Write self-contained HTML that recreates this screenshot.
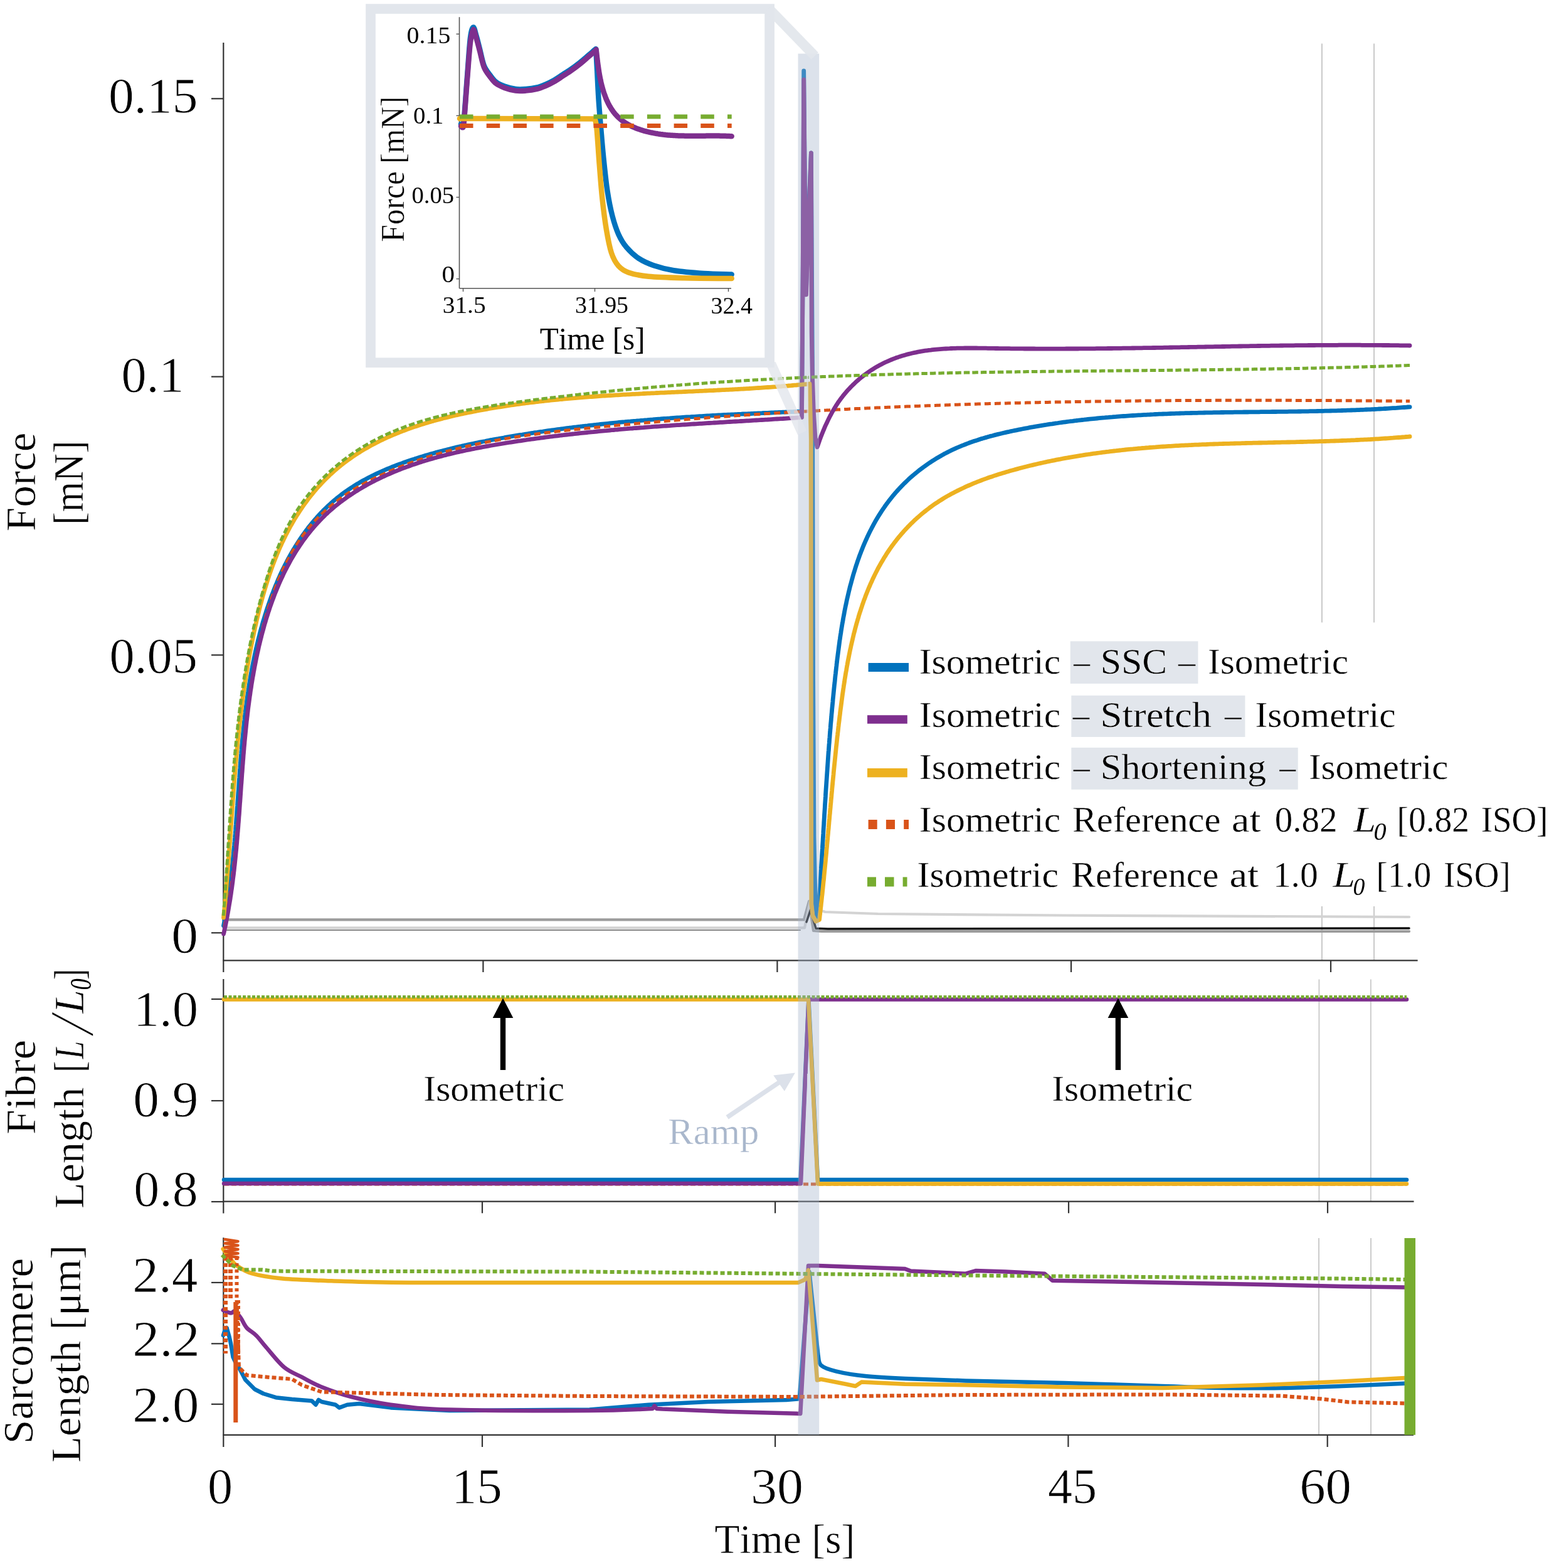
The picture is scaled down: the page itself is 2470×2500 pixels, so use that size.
<!DOCTYPE html><html><head><meta charset="utf-8"><title>Force, fibre length and sarcomere length</title><style>html,body{margin:0;padding:0;background:#fff;}svg{display:block;}text{font-family:'Liberation Serif', serif;font-kerning:none;paint-order:fill;}.ta{stroke:#fff;stroke-width:0.8px;}.tb{stroke:#fff;stroke-width:0.6px;}.tc{stroke:#fff;stroke-width:0.4px;}</style></head><body>
<svg width="2470" height="2500" viewBox="0 0 2470 2500">
<rect x="0" y="0" width="2470" height="2500" fill="#fff"/>
<line x1="2107.9" y1="69.4" x2="2107.9" y2="1531.0" stroke="#cccccc" stroke-width="2.2" />
<line x1="2191.0" y1="69.4" x2="2191.0" y2="1531.0" stroke="#cccccc" stroke-width="2.2" />
<line x1="2103.4" y1="1561.5" x2="2103.4" y2="1915.7" stroke="#cccccc" stroke-width="2.0" />
<line x1="2185.8" y1="1561.5" x2="2185.8" y2="1915.7" stroke="#cccccc" stroke-width="2.0" />
<line x1="2103.0" y1="1974.0" x2="2103.0" y2="2287.8" stroke="#cccccc" stroke-width="2.0" />
<line x1="2186.0" y1="1974.0" x2="2186.0" y2="2287.8" stroke="#cccccc" stroke-width="2.0" />
<line x1="356.3" y1="68.0" x2="356.3" y2="1550.0" stroke="#333333" stroke-width="2.2" />
<line x1="355.3" y1="1531.3" x2="2260.6" y2="1531.3" stroke="#333333" stroke-width="2.2" />
<line x1="337.0" y1="157.3" x2="356.3" y2="157.3" stroke="#333333" stroke-width="2.2" />
<line x1="337.0" y1="600.6" x2="356.3" y2="600.6" stroke="#333333" stroke-width="2.2" />
<line x1="337.0" y1="1044.4" x2="356.3" y2="1044.4" stroke="#333333" stroke-width="2.2" />
<line x1="337.0" y1="1487.3" x2="356.3" y2="1487.3" stroke="#333333" stroke-width="2.2" />
<line x1="770.4" y1="1531.3" x2="770.4" y2="1550.0" stroke="#333333" stroke-width="2.2" />
<line x1="1239.4" y1="1531.3" x2="1239.4" y2="1550.0" stroke="#333333" stroke-width="2.2" />
<line x1="1708.0" y1="1531.3" x2="1708.0" y2="1550.0" stroke="#333333" stroke-width="2.2" />
<line x1="2122.0" y1="1531.3" x2="2122.0" y2="1550.0" stroke="#333333" stroke-width="2.2" />
<line x1="356.3" y1="1561.0" x2="356.3" y2="1934.6" stroke="#333333" stroke-width="2.2" />
<line x1="355.3" y1="1915.7" x2="2254.5" y2="1915.7" stroke="#333333" stroke-width="2.2" />
<line x1="337.0" y1="1593.0" x2="356.3" y2="1593.0" stroke="#333333" stroke-width="2.2" />
<line x1="337.0" y1="1755.0" x2="356.3" y2="1755.0" stroke="#333333" stroke-width="2.2" />
<line x1="337.0" y1="1916.0" x2="356.3" y2="1916.0" stroke="#333333" stroke-width="2.2" />
<line x1="769.0" y1="1915.7" x2="769.0" y2="1934.3" stroke="#333333" stroke-width="2.2" />
<line x1="1236.1" y1="1915.7" x2="1236.1" y2="1934.3" stroke="#333333" stroke-width="2.2" />
<line x1="1704.0" y1="1915.7" x2="1704.0" y2="1934.3" stroke="#333333" stroke-width="2.2" />
<line x1="2117.0" y1="1915.7" x2="2117.0" y2="1934.3" stroke="#333333" stroke-width="2.2" />
<line x1="356.3" y1="1973.3" x2="356.3" y2="2307.0" stroke="#333333" stroke-width="2.2" />
<line x1="355.3" y1="2287.8" x2="2254.0" y2="2287.8" stroke="#333333" stroke-width="2.2" />
<line x1="337.0" y1="2044.9" x2="356.3" y2="2044.9" stroke="#333333" stroke-width="2.2" />
<line x1="337.0" y1="2142.3" x2="356.3" y2="2142.3" stroke="#333333" stroke-width="2.2" />
<line x1="337.0" y1="2238.8" x2="356.3" y2="2238.8" stroke="#333333" stroke-width="2.2" />
<line x1="769.0" y1="2287.8" x2="769.0" y2="2307.0" stroke="#333333" stroke-width="2.2" />
<line x1="1236.1" y1="2287.8" x2="1236.1" y2="2307.0" stroke="#333333" stroke-width="2.2" />
<line x1="1703.4" y1="2287.8" x2="1703.4" y2="2307.0" stroke="#333333" stroke-width="2.2" />
<line x1="2116.7" y1="2287.8" x2="2116.7" y2="2307.0" stroke="#333333" stroke-width="2.2" />
<path d="M356.0,1483.0 L1276.0,1483.0" fill="none" stroke="#8a8a8a" stroke-width="2.2" stroke-linejoin="round" stroke-linecap="round" />
<path d="M356.0,1466.4 L1282.0,1466.4 L1290.0,1437.0 L1297.0,1484.0 L1310.0,1485.0 L2247.0,1485.0" fill="none" stroke="#9c9c9c" stroke-width="4.2" stroke-linejoin="round" stroke-linecap="round" />
<path d="M356.0,1479.3 L1283.0,1479.3 L1292.0,1436.0 L1300.0,1449.0 L1316.0,1454.0 L1400.0,1457.0 L1700.0,1459.5 L2247.0,1462.0" fill="none" stroke="#d3d3d3" stroke-width="4.2" stroke-linejoin="round" stroke-linecap="round" />
<path d="M1286.0,1470.0 L1292.4,1450.7 L1301.0,1480.3 L1320.0,1481.0 L2247.0,1480.0" fill="none" stroke="#111111" stroke-width="3.4" stroke-linejoin="round" stroke-linecap="round" />
<path d="M356.5,1476.0 L357.1,1473.0 L357.6,1470.0 L358.2,1467.0 L358.7,1464.0 L359.2,1461.0 L359.8,1458.0 L360.3,1455.1 L360.8,1452.1 L361.3,1449.1 L361.8,1446.1 L362.2,1443.1 L362.7,1440.1 L363.2,1437.1 L363.6,1434.1 L364.0,1431.1 L364.5,1428.1 L364.9,1425.1 L365.3,1422.2 L365.7,1419.2 L366.1,1416.2 L366.5,1413.2 L366.9,1410.2 L367.3,1407.2 L367.6,1404.2 L368.0,1401.2 L368.4,1398.2 L368.7,1395.3 L369.1,1392.3 L369.4,1389.3 L369.7,1386.3 L370.1,1383.3 L370.4,1380.3 L370.7,1377.3 L371.0,1374.3 L371.3,1371.4 L371.6,1368.4 L371.9,1365.4 L372.2,1362.4 L372.5,1359.4 L372.7,1356.4 L373.0,1353.4 L373.3,1350.5 L373.6,1347.5 L373.8,1344.5 L374.1,1341.5 L374.3,1338.5 L374.6,1335.5 L374.8,1332.5 L375.1,1329.6 L375.3,1326.6 L375.6,1323.6 L375.8,1320.6 L376.0,1317.6 L376.3,1314.6 L376.5,1311.7 L376.7,1308.7 L376.9,1305.7 L377.2,1302.7 L377.4,1299.7 L377.6,1296.7 L377.8,1293.7 L378.0,1290.8 L378.2,1287.8 L378.5,1284.8 L378.7,1281.8 L378.9,1278.8 L379.1,1275.8 L379.3,1272.9 L379.5,1269.9 L379.7,1266.9 L379.9,1263.9 L380.2,1260.9 L380.4,1257.9 L380.6,1255.0 L380.8,1252.0 L381.0,1249.0 L381.2,1246.0 L381.4,1243.0 L381.7,1240.1 L381.9,1237.1 L382.1,1234.1 L382.3,1231.1 L382.5,1228.1 L382.8,1225.1 L383.0,1222.2 L383.2,1219.2 L383.5,1216.2 L383.7,1213.2 L383.9,1210.2 L384.2,1207.2 L384.4,1204.3 L384.7,1201.3 L384.9,1198.3 L385.2,1195.3 L385.4,1192.3 L385.7,1189.3 L386.0,1186.4 L386.2,1183.4 L386.5,1180.4 L386.8,1177.4 L387.1,1174.4 L387.4,1171.4 L387.7,1168.5 L388.0,1165.5 L388.3,1162.5 L388.6,1159.5 L388.9,1156.5 L389.2,1153.5 L389.5,1150.6 L389.9,1147.6 L390.2,1144.6 L390.5,1141.6 L390.9,1138.6 L391.3,1135.6 L391.6,1132.7 L392.0,1129.7 L392.4,1126.7 L392.8,1123.7 L393.2,1120.7 L393.6,1117.7 L394.0,1114.8 L394.4,1111.8 L394.8,1108.8 L395.2,1105.8 L395.7,1102.8 L396.1,1099.8 L396.6,1096.8 L397.0,1093.9 L397.5,1090.9 L398.0,1087.9 L398.5,1084.9 L399.0,1081.9 L399.5,1078.9 L400.0,1075.9 L400.6,1073.0 L401.1,1070.0 L401.7,1067.0 L402.2,1064.0 L402.8,1061.0 L403.4,1058.0 L404.0,1055.0 L404.6,1052.1 L405.2,1049.1 L405.8,1046.1 L406.5,1043.1 L407.1,1040.1 L407.8,1037.1 L408.4,1034.1 L409.1,1031.2 L409.8,1028.2 L410.5,1025.2 L411.2,1022.2 L412.0,1019.2 L412.7,1016.3 L413.5,1013.3 L414.2,1010.3 L415.0,1007.3 L415.8,1004.4 L416.6,1001.4 L417.5,998.5 L418.3,995.5 L419.1,992.6 L420.0,989.6 L420.9,986.7 L421.8,983.8 L422.7,980.8 L423.6,977.9 L424.5,975.0 L425.4,972.1 L426.4,969.2 L427.4,966.3 L428.4,963.4 L429.4,960.5 L430.4,957.6 L431.4,954.8 L432.4,951.9 L433.5,949.0 L434.6,946.2 L435.7,943.4 L436.8,940.5 L437.9,937.7 L439.0,934.9 L440.2,932.1 L441.4,929.3 L442.5,926.5 L443.7,923.7 L445.0,921.0 L446.2,918.2 L447.4,915.5 L448.7,912.8 L450.0,910.0 L451.3,907.3 L452.6,904.6 L453.9,901.9 L455.3,899.3 L456.7,896.6 L458.0,894.0 L459.4,891.3 L460.9,888.7 L462.3,886.1 L463.8,883.5 L465.2,880.9 L466.7,878.4 L468.2,875.8 L469.8,873.3 L471.3,870.8 L472.9,868.3 L474.5,865.8 L476.1,863.3 L477.7,860.8 L479.3,858.4 L481.0,856.0 L482.7,853.5 L484.4,851.1 L486.1,848.8 L487.8,846.4 L489.6,844.1 L491.3,841.7 L493.1,839.4 L495.0,837.1 L496.8,834.9 L498.7,832.6 L500.5,830.4 L502.4,828.2 L504.4,826.0 L506.3,823.8 L508.3,821.6 L510.2,819.5 L512.2,817.4 L514.3,815.3 L516.3,813.2 L518.4,811.2 L520.5,809.2 L522.6,807.1 L524.7,805.2 L526.9,803.2 L529.0,801.2 L531.2,799.3 L533.5,797.4 L535.7,795.6 L538.0,793.7 L540.3,791.9 L542.6,790.1 L544.9,788.3 L547.3,786.5 L549.6,784.8 L552.1,783.1 L554.5,781.4 L556.9,779.8 L559.4,778.1 L561.9,776.5 L564.4,774.9 L566.9,773.3 L569.5,771.8 L572.0,770.3 L574.6,768.8 L577.2,767.3 L579.9,765.8 L582.5,764.4 L585.1,763.0 L587.8,761.6 L590.5,760.2 L593.2,758.8 L595.9,757.5 L598.7,756.2 L601.4,754.9 L604.2,753.6 L606.9,752.3 L609.7,751.1 L612.5,749.9 L615.3,748.7 L618.1,747.5 L621.0,746.3 L623.8,745.2 L626.6,744.0 L629.5,742.9 L632.4,741.8 L635.2,740.7 L638.1,739.6 L641.0,738.6 L643.9,737.5 L646.8,736.5 L649.7,735.5 L652.6,734.5 L655.6,733.5 L658.5,732.6 L661.4,731.6 L664.3,730.7 L667.3,729.7 L670.2,728.8 L673.1,727.9 L676.1,727.0 L679.0,726.1 L682.0,725.3 L684.9,724.4 L687.9,723.6 L690.8,722.8 L693.8,721.9 L696.7,721.1 L699.6,720.3 L702.6,719.5 L705.5,718.8 L708.5,718.0 L711.4,717.3 L714.4,716.5 L717.3,715.8 L720.3,715.0 L723.2,714.3 L726.2,713.6 L729.1,712.9 L732.1,712.2 L735.0,711.6 L738.0,710.9 L740.9,710.2 L743.9,709.6 L746.9,708.9 L749.8,708.3 L752.8,707.7 L755.7,707.0 L758.7,706.4 L761.6,705.8 L764.6,705.2 L767.5,704.6 L770.5,704.0 L773.5,703.5 L776.4,702.9 L779.4,702.3 L782.3,701.7 L785.3,701.2 L788.3,700.6 L791.2,700.1 L794.2,699.6 L797.1,699.0 L800.1,698.5 L803.1,698.0 L806.0,697.4 L809.0,696.9 L811.9,696.4 L814.9,695.9 L817.9,695.4 L820.8,694.9 L823.8,694.4 L826.7,693.9 L829.7,693.4 L832.7,693.0 L835.6,692.5 L838.6,692.0 L841.6,691.6 L844.5,691.1 L847.5,690.6 L850.5,690.2 L853.4,689.7 L856.4,689.3 L859.4,688.8 L862.3,688.4 L865.3,688.0 L868.3,687.5 L871.2,687.1 L874.2,686.7 L877.2,686.3 L880.1,685.9 L883.1,685.5 L886.1,685.1 L889.0,684.7 L892.0,684.3 L895.0,683.9 L897.9,683.5 L900.9,683.1 L903.9,682.7 L906.9,682.3 L909.8,682.0 L912.8,681.6 L915.8,681.2 L918.7,680.9 L921.7,680.5 L924.7,680.2 L927.7,679.8 L930.6,679.5 L933.6,679.1 L936.6,678.8 L939.6,678.4 L942.5,678.1 L945.5,677.8 L948.5,677.5 L951.5,677.1 L954.4,676.8 L957.4,676.5 L960.4,676.2 L963.4,675.9 L966.3,675.6 L969.3,675.3 L972.3,675.0 L975.3,674.7 L978.3,674.4 L981.2,674.1 L984.2,673.8 L987.2,673.5 L990.2,673.2 L993.2,672.9 L996.1,672.7 L999.1,672.4 L1002.1,672.1 L1005.1,671.9 L1008.1,671.6 L1011.1,671.3 L1014.0,671.1 L1017.0,670.8 L1020.0,670.6 L1023.0,670.3 L1026.0,670.1 L1029.0,669.8 L1032.0,669.6 L1035.0,669.3 L1037.9,669.1 L1040.9,668.9 L1043.9,668.6 L1046.9,668.4 L1049.9,668.2 L1052.9,668.0 L1055.9,667.7 L1058.9,667.5 L1061.9,667.3 L1064.8,667.1 L1067.8,666.9 L1070.8,666.6 L1073.8,666.4 L1076.8,666.2 L1079.8,666.0 L1082.8,665.8 L1085.8,665.6 L1088.8,665.4 L1091.8,665.2 L1094.8,665.0 L1097.8,664.8 L1100.8,664.7 L1103.8,664.5 L1106.8,664.3 L1109.8,664.1 L1112.8,663.9 L1115.8,663.7 L1118.8,663.6 L1121.8,663.4 L1124.8,663.2 L1127.8,663.0 L1130.8,662.9 L1133.8,662.7 L1136.8,662.5 L1139.8,662.4 L1142.8,662.2 L1145.8,662.0 L1148.8,661.9 L1151.8,661.7 L1154.8,661.5 L1157.8,661.4 L1160.8,661.2 L1163.8,661.1 L1166.8,660.9 L1169.8,660.8 L1172.9,660.6 L1175.9,660.5 L1178.9,660.3 L1181.9,660.2 L1184.9,660.0 L1187.9,659.9 L1190.9,659.8 L1193.9,659.6 L1196.9,659.5 L1200.0,659.3 L1203.0,659.2 L1206.0,659.1 L1209.0,658.9 L1212.0,658.8 L1215.0,658.7 L1218.1,658.5 L1221.1,658.4 L1224.1,658.3 L1227.1,658.1 L1230.1,658.0 L1233.1,657.9 L1236.2,657.7 L1239.2,657.6 L1242.2,657.5 L1245.2,657.4 L1248.2,657.2 L1251.3,657.1 L1254.3,657.0 L1257.3,656.9 L1260.3,656.7 L1263.4,656.6 L1266.4,656.5 L1269.4,656.4 L1272.4,656.2 L1275.5,656.1 L1278.5,656.0 L1280.3,420.0 L1281.7,113.0 L1283.4,290.0 L1285.5,462.0 L1290.0,322.0 L1293.4,244.0 L1295.5,600.0 L1296.6,1080.0 L1298.0,1334.8 L1300.2,1441.0 L1302.5,1461.0 L1304.4,1462.0 L1304.4,1462.0 L1304.6,1458.9 L1304.8,1455.8 L1305.0,1452.7 L1305.3,1449.6 L1305.5,1446.5 L1305.7,1443.5 L1305.9,1440.4 L1306.1,1437.3 L1306.3,1434.2 L1306.5,1431.2 L1306.7,1428.1 L1306.9,1425.1 L1307.1,1422.0 L1307.3,1419.0 L1307.5,1415.9 L1307.7,1412.9 L1307.9,1409.8 L1308.1,1406.8 L1308.2,1403.8 L1308.4,1400.7 L1308.6,1397.7 L1308.8,1394.7 L1309.0,1391.7 L1309.2,1388.7 L1309.4,1385.7 L1309.5,1382.6 L1309.7,1379.6 L1309.9,1376.6 L1310.1,1373.6 L1310.3,1370.6 L1310.5,1367.6 L1310.6,1364.6 L1310.8,1361.7 L1311.0,1358.7 L1311.2,1355.7 L1311.4,1352.7 L1311.5,1349.7 L1311.7,1346.7 L1311.9,1343.8 L1312.1,1340.8 L1312.2,1337.8 L1312.4,1334.9 L1312.6,1331.9 L1312.8,1328.9 L1312.9,1326.0 L1313.1,1323.0 L1313.3,1320.0 L1313.5,1317.1 L1313.7,1314.1 L1313.8,1311.2 L1314.0,1308.2 L1314.2,1305.2 L1314.4,1302.3 L1314.5,1299.3 L1314.7,1296.4 L1314.9,1293.4 L1315.1,1290.5 L1315.3,1287.5 L1315.4,1284.6 L1315.6,1281.6 L1315.8,1278.7 L1316.0,1275.8 L1316.2,1272.8 L1316.4,1269.9 L1316.5,1266.9 L1316.7,1264.0 L1316.9,1261.0 L1317.1,1258.1 L1317.3,1255.2 L1317.5,1252.2 L1317.7,1249.3 L1317.9,1246.3 L1318.1,1243.4 L1318.3,1240.4 L1318.5,1237.5 L1318.7,1234.6 L1318.9,1231.6 L1319.1,1228.7 L1319.3,1225.7 L1319.5,1222.8 L1319.7,1219.8 L1319.9,1216.9 L1320.1,1214.0 L1320.3,1211.0 L1320.5,1208.1 L1320.7,1205.1 L1320.9,1202.2 L1321.1,1199.2 L1321.4,1196.3 L1321.6,1193.3 L1321.8,1190.4 L1322.0,1187.4 L1322.3,1184.5 L1322.5,1181.5 L1322.7,1178.5 L1323.0,1175.6 L1323.2,1172.6 L1323.4,1169.7 L1323.7,1166.7 L1323.9,1163.7 L1324.2,1160.8 L1324.4,1157.8 L1324.6,1154.8 L1324.9,1151.8 L1325.2,1148.9 L1325.4,1145.9 L1325.7,1142.9 L1325.9,1139.9 L1326.2,1136.9 L1326.5,1133.9 L1326.7,1131.0 L1327.0,1128.0 L1327.3,1125.0 L1327.6,1122.0 L1327.9,1119.0 L1328.1,1116.0 L1328.4,1113.0 L1328.7,1110.0 L1329.0,1106.9 L1329.3,1103.9 L1329.6,1100.9 L1329.9,1097.9 L1330.2,1094.9 L1330.5,1091.8 L1330.9,1088.8 L1331.2,1085.8 L1331.5,1082.7 L1331.8,1079.7 L1332.1,1076.7 L1332.5,1073.6 L1332.8,1070.6 L1333.2,1067.5 L1333.5,1064.4 L1333.9,1061.4 L1334.2,1058.3 L1334.6,1055.3 L1334.9,1052.2 L1335.3,1049.1 L1335.7,1046.1 L1336.1,1043.0 L1336.5,1039.9 L1336.9,1036.9 L1337.3,1033.8 L1337.7,1030.7 L1338.1,1027.7 L1338.5,1024.6 L1338.9,1021.5 L1339.4,1018.5 L1339.8,1015.4 L1340.3,1012.3 L1340.8,1009.3 L1341.2,1006.2 L1341.7,1003.1 L1342.2,1000.1 L1342.7,997.0 L1343.2,994.0 L1343.8,990.9 L1344.3,987.9 L1344.8,984.8 L1345.4,981.8 L1346.0,978.7 L1346.5,975.7 L1347.1,972.7 L1347.7,969.7 L1348.3,966.6 L1349.0,963.6 L1349.6,960.6 L1350.2,957.6 L1350.9,954.6 L1351.6,951.6 L1352.3,948.6 L1353.0,945.6 L1353.7,942.6 L1354.4,939.7 L1355.1,936.7 L1355.9,933.7 L1356.7,930.8 L1357.5,927.9 L1358.3,924.9 L1359.1,922.0 L1359.9,919.1 L1360.7,916.2 L1361.6,913.3 L1362.5,910.4 L1363.4,907.5 L1364.3,904.6 L1365.2,901.7 L1366.2,898.9 L1367.1,896.0 L1368.1,893.2 L1369.1,890.3 L1370.1,887.5 L1371.1,884.7 L1372.2,881.9 L1373.3,879.1 L1374.4,876.4 L1375.5,873.6 L1376.6,870.8 L1377.7,868.1 L1378.9,865.4 L1380.1,862.7 L1381.3,860.0 L1382.5,857.3 L1383.8,854.6 L1385.0,851.9 L1386.3,849.3 L1387.6,846.6 L1389.0,844.0 L1390.3,841.4 L1391.7,838.8 L1393.1,836.2 L1394.5,833.7 L1395.9,831.1 L1397.4,828.6 L1398.9,826.0 L1400.4,823.5 L1401.9,821.1 L1403.5,818.6 L1405.1,816.1 L1406.7,813.7 L1408.3,811.3 L1410.0,808.9 L1411.6,806.5 L1413.3,804.1 L1415.1,801.7 L1416.8,799.4 L1418.6,797.1 L1420.4,794.8 L1422.3,792.5 L1424.1,790.2 L1426.0,788.0 L1427.9,785.8 L1429.8,783.6 L1431.8,781.4 L1433.8,779.2 L1435.8,777.1 L1437.9,774.9 L1439.9,772.8 L1442.0,770.7 L1444.1,768.7 L1446.3,766.6 L1448.4,764.6 L1450.6,762.6 L1452.8,760.6 L1455.1,758.7 L1457.3,756.8 L1459.6,754.9 L1461.9,753.0 L1464.2,751.1 L1466.5,749.3 L1468.9,747.5 L1471.3,745.7 L1473.7,743.9 L1476.1,742.2 L1478.5,740.5 L1481.0,738.8 L1483.5,737.1 L1485.9,735.5 L1488.5,733.9 L1491.0,732.3 L1493.5,730.7 L1496.1,729.2 L1498.7,727.7 L1501.3,726.2 L1503.9,724.8 L1506.5,723.3 L1509.2,721.9 L1511.9,720.6 L1514.5,719.2 L1517.2,717.9 L1519.9,716.7 L1522.7,715.4 L1525.4,714.2 L1528.1,713.0 L1530.9,711.8 L1533.7,710.7 L1536.5,709.6 L1539.3,708.5 L1542.1,707.4 L1544.9,706.3 L1547.7,705.3 L1550.6,704.3 L1553.4,703.3 L1556.3,702.4 L1559.2,701.5 L1562.1,700.5 L1564.9,699.6 L1567.8,698.8 L1570.7,697.9 L1573.7,697.1 L1576.6,696.2 L1579.5,695.4 L1582.4,694.7 L1585.4,693.9 L1588.3,693.1 L1591.3,692.4 L1594.2,691.7 L1597.2,691.0 L1600.2,690.3 L1603.1,689.6 L1606.1,688.9 L1609.1,688.3 L1612.0,687.6 L1615.0,687.0 L1618.0,686.4 L1621.0,685.8 L1624.0,685.2 L1627.0,684.6 L1629.9,684.0 L1632.9,683.4 L1635.9,682.8 L1638.9,682.3 L1641.9,681.7 L1644.9,681.2 L1647.9,680.7 L1650.8,680.1 L1653.8,679.6 L1656.8,679.1 L1659.8,678.6 L1662.8,678.1 L1665.8,677.6 L1668.8,677.2 L1671.8,676.7 L1674.8,676.2 L1677.7,675.8 L1680.7,675.3 L1683.7,674.9 L1686.7,674.5 L1689.7,674.0 L1692.7,673.6 L1695.7,673.2 L1698.7,672.8 L1701.7,672.4 L1704.7,672.0 L1707.6,671.6 L1710.6,671.3 L1713.6,670.9 L1716.6,670.5 L1719.6,670.2 L1722.6,669.8 L1725.6,669.5 L1728.6,669.2 L1731.6,668.8 L1734.6,668.5 L1737.6,668.2 L1740.6,667.9 L1743.6,667.6 L1746.5,667.3 L1749.5,667.0 L1752.5,666.7 L1755.5,666.4 L1758.5,666.1 L1761.5,665.9 L1764.5,665.6 L1767.5,665.4 L1770.5,665.1 L1773.5,664.9 L1776.5,664.6 L1779.5,664.4 L1782.5,664.1 L1785.5,663.9 L1788.5,663.7 L1791.5,663.5 L1794.5,663.3 L1797.5,663.1 L1800.5,662.9 L1803.5,662.7 L1806.5,662.5 L1809.5,662.3 L1812.5,662.1 L1815.5,661.9 L1818.4,661.8 L1821.4,661.6 L1824.4,661.4 L1827.4,661.3 L1830.4,661.1 L1833.4,661.0 L1836.4,660.8 L1839.4,660.7 L1842.4,660.5 L1845.4,660.4 L1848.4,660.2 L1851.4,660.1 L1854.4,660.0 L1857.4,659.9 L1860.4,659.8 L1863.4,659.6 L1866.4,659.5 L1869.4,659.4 L1872.4,659.3 L1875.4,659.2 L1878.4,659.1 L1881.4,659.0 L1884.4,658.9 L1887.4,658.8 L1890.4,658.7 L1893.4,658.7 L1896.4,658.6 L1899.4,658.5 L1902.4,658.4 L1905.4,658.3 L1908.5,658.3 L1911.5,658.2 L1914.5,658.1 L1917.5,658.1 L1920.5,658.0 L1923.5,657.9 L1926.5,657.9 L1929.5,657.8 L1932.5,657.8 L1935.5,657.7 L1938.5,657.7 L1941.5,657.6 L1944.5,657.6 L1947.5,657.5 L1950.5,657.5 L1953.5,657.4 L1956.5,657.4 L1959.5,657.3 L1962.5,657.3 L1965.5,657.3 L1968.5,657.2 L1971.5,657.2 L1974.5,657.1 L1977.5,657.1 L1980.5,657.1 L1983.5,657.0 L1986.5,657.0 L1989.5,657.0 L1992.5,656.9 L1995.5,656.9 L1998.6,656.9 L2001.6,656.8 L2004.6,656.8 L2007.6,656.8 L2010.6,656.7 L2013.6,656.7 L2016.6,656.7 L2019.6,656.6 L2022.6,656.6 L2025.6,656.6 L2028.6,656.5 L2031.6,656.5 L2034.6,656.5 L2037.6,656.4 L2040.6,656.4 L2043.6,656.4 L2046.6,656.3 L2049.6,656.3 L2052.6,656.3 L2055.6,656.2 L2058.7,656.2 L2061.7,656.2 L2064.7,656.1 L2067.7,656.1 L2070.7,656.0 L2073.7,656.0 L2076.7,655.9 L2079.7,655.9 L2082.7,655.8 L2085.7,655.8 L2088.7,655.7 L2091.7,655.7 L2094.7,655.6 L2097.7,655.6 L2100.7,655.5 L2103.7,655.4 L2106.7,655.4 L2109.7,655.3 L2112.8,655.2 L2115.8,655.2 L2118.8,655.1 L2121.8,655.0 L2124.8,654.9 L2127.8,654.9 L2130.8,654.8 L2133.8,654.7 L2136.8,654.6 L2139.8,654.5 L2142.8,654.4 L2145.8,654.3 L2148.8,654.2 L2151.8,654.1 L2154.8,654.0 L2157.8,653.9 L2160.8,653.8 L2163.9,653.7 L2166.9,653.6 L2169.9,653.4 L2172.9,653.3 L2175.9,653.2 L2178.9,653.0 L2181.9,652.9 L2184.9,652.8 L2187.9,652.6 L2190.9,652.5 L2193.9,652.3 L2196.9,652.2 L2199.9,652.0 L2202.9,651.8 L2205.9,651.7 L2208.9,651.5 L2211.9,651.3 L2214.9,651.1 L2218.0,650.9 L2221.0,650.7 L2224.0,650.6 L2227.0,650.4 L2230.0,650.1 L2233.0,649.9 L2236.0,649.7 L2239.0,649.5 L2242.0,649.3 L2245.0,649.0 L2248.0,648.8" fill="none" stroke="#0072BD" stroke-width="6.8" stroke-linejoin="round" stroke-linecap="round" />
<path d="M357.5,1478.0 L358.1,1475.0 L358.7,1472.1 L359.2,1469.1 L359.8,1466.2 L360.3,1463.2 L360.9,1460.3 L361.4,1457.3 L361.9,1454.3 L362.5,1451.4 L363.0,1448.4 L363.5,1445.5 L364.0,1442.5 L364.4,1439.5 L364.9,1436.6 L365.4,1433.6 L365.8,1430.6 L366.3,1427.7 L366.7,1424.7 L367.2,1421.7 L367.6,1418.7 L368.0,1415.8 L368.4,1412.8 L368.8,1409.8 L369.2,1406.8 L369.6,1403.9 L370.0,1400.9 L370.4,1397.9 L370.8,1394.9 L371.1,1392.0 L371.5,1389.0 L371.8,1386.0 L372.2,1383.0 L372.5,1380.0 L372.9,1377.0 L373.2,1374.1 L373.5,1371.1 L373.9,1368.1 L374.2,1365.1 L374.5,1362.1 L374.8,1359.1 L375.1,1356.2 L375.4,1353.2 L375.7,1350.2 L376.0,1347.2 L376.3,1344.2 L376.6,1341.2 L376.8,1338.2 L377.1,1335.2 L377.4,1332.2 L377.7,1329.3 L377.9,1326.3 L378.2,1323.3 L378.5,1320.3 L378.7,1317.3 L379.0,1314.3 L379.2,1311.3 L379.5,1308.3 L379.7,1305.3 L380.0,1302.3 L380.2,1299.3 L380.5,1296.3 L380.7,1293.4 L380.9,1290.4 L381.2,1287.4 L381.4,1284.4 L381.7,1281.4 L381.9,1278.4 L382.1,1275.4 L382.4,1272.4 L382.6,1269.4 L382.8,1266.4 L383.1,1263.4 L383.3,1260.4 L383.5,1257.4 L383.8,1254.4 L384.0,1251.4 L384.2,1248.4 L384.5,1245.4 L384.7,1242.4 L385.0,1239.4 L385.2,1236.5 L385.4,1233.5 L385.7,1230.5 L385.9,1227.5 L386.2,1224.5 L386.4,1221.5 L386.7,1218.5 L386.9,1215.5 L387.2,1212.5 L387.4,1209.5 L387.7,1206.5 L387.9,1203.5 L388.2,1200.5 L388.4,1197.5 L388.7,1194.5 L389.0,1191.6 L389.3,1188.6 L389.5,1185.6 L389.8,1182.6 L390.1,1179.6 L390.4,1176.6 L390.7,1173.6 L391.0,1170.6 L391.3,1167.6 L391.6,1164.7 L391.9,1161.7 L392.2,1158.7 L392.5,1155.7 L392.8,1152.7 L393.2,1149.7 L393.5,1146.7 L393.8,1143.8 L394.2,1140.8 L394.5,1137.8 L394.9,1134.8 L395.2,1131.8 L395.6,1128.8 L396.0,1125.9 L396.3,1122.9 L396.7,1119.9 L397.1,1116.9 L397.5,1113.9 L397.9,1111.0 L398.3,1108.0 L398.7,1105.0 L399.2,1102.0 L399.6,1099.1 L400.0,1096.1 L400.5,1093.1 L400.9,1090.2 L401.4,1087.2 L401.9,1084.2 L402.4,1081.2 L402.8,1078.3 L403.3,1075.3 L403.8,1072.3 L404.4,1069.4 L404.9,1066.4 L405.4,1063.5 L406.0,1060.5 L406.5,1057.5 L407.1,1054.6 L407.6,1051.6 L408.2,1048.7 L408.8,1045.7 L409.4,1042.7 L410.0,1039.8 L410.6,1036.8 L411.2,1033.9 L411.9,1030.9 L412.5,1028.0 L413.2,1025.0 L413.9,1022.1 L414.5,1019.1 L415.2,1016.2 L415.9,1013.2 L416.6,1010.3 L417.4,1007.4 L418.1,1004.4 L418.9,1001.5 L419.6,998.5 L420.4,995.6 L421.2,992.7 L422.0,989.7 L422.8,986.8 L423.6,983.9 L424.5,981.0 L425.3,978.0 L426.2,975.1 L427.1,972.2 L427.9,969.3 L428.9,966.4 L429.8,963.5 L430.7,960.6 L431.7,957.7 L432.6,954.8 L433.6,952.0 L434.6,949.1 L435.6,946.2 L436.7,943.4 L437.7,940.5 L438.8,937.7 L439.9,934.9 L441.0,932.0 L442.1,929.2 L443.2,926.4 L444.4,923.6 L445.6,920.9 L446.8,918.1 L448.0,915.3 L449.2,912.6 L450.4,909.9 L451.7,907.1 L453.0,904.4 L454.3,901.7 L455.6,899.0 L457.0,896.4 L458.4,893.7 L459.8,891.1 L461.2,888.4 L462.6,885.8 L464.1,883.2 L465.6,880.6 L467.1,878.1 L468.6,875.5 L470.1,873.0 L471.7,870.5 L473.3,868.0 L474.9,865.5 L476.6,863.0 L478.2,860.6 L479.9,858.1 L481.6,855.7 L483.4,853.3 L485.1,851.0 L486.9,848.6 L488.8,846.3 L490.6,844.0 L492.5,841.7 L494.4,839.4 L496.3,837.2 L498.2,835.0 L500.2,832.8 L502.2,830.6 L504.2,828.4 L506.3,826.3 L508.4,824.2 L510.5,822.1 L512.6,820.0 L514.7,818.0 L516.9,816.0 L519.1,814.0 L521.3,812.0 L523.5,810.0 L525.8,808.1 L528.1,806.2 L530.4,804.3 L532.7,802.4 L535.0,800.6 L537.4,798.8 L539.8,797.0 L542.2,795.2 L544.6,793.4 L547.0,791.7 L549.5,790.0 L552.0,788.3 L554.5,786.7 L557.0,785.0 L559.5,783.4 L562.1,781.8 L564.6,780.2 L567.2,778.7 L569.8,777.2 L572.4,775.7 L575.0,774.2 L577.6,772.7 L580.3,771.2 L582.9,769.8 L585.6,768.4 L588.3,767.0 L591.0,765.6 L593.6,764.2 L596.4,762.9 L599.1,761.6 L601.8,760.3 L604.5,759.0 L607.2,757.7 L610.0,756.4 L612.7,755.2 L615.5,754.0 L618.2,752.7 L621.0,751.5 L623.7,750.3 L626.5,749.2 L629.3,748.0 L632.1,746.9 L634.8,745.7 L637.6,744.6 L640.4,743.5 L643.2,742.4 L646.0,741.3 L648.8,740.3 L651.6,739.2 L654.4,738.2 L657.2,737.2 L660.0,736.2 L662.9,735.2 L665.7,734.2 L668.5,733.2 L671.3,732.2 L674.2,731.3 L677.0,730.3 L679.9,729.4 L682.7,728.5 L685.6,727.6 L688.4,726.7 L691.3,725.8 L694.1,725.0 L697.0,724.1 L699.9,723.3 L702.7,722.5 L705.6,721.6 L708.5,720.8 L711.4,720.0 L714.2,719.2 L717.1,718.5 L720.0,717.7 L722.9,717.0 L725.8,716.2 L728.7,715.5 L731.6,714.7 L734.5,714.0 L737.4,713.3 L740.3,712.6 L743.2,712.0 L746.1,711.3 L749.1,710.6 L752.0,710.0 L754.9,709.3 L757.8,708.7 L760.8,708.0 L763.7,707.4 L766.6,706.8 L769.6,706.2 L772.5,705.6 L775.4,705.0 L778.4,704.4 L781.3,703.9 L784.3,703.3 L787.2,702.8 L790.2,702.2 L793.1,701.7 L796.1,701.1 L799.0,700.6 L802.0,700.1 L804.9,699.6 L807.9,699.1 L810.9,698.6 L813.8,698.1 L816.8,697.6 L819.8,697.2 L822.7,696.7 L825.7,696.2 L828.7,695.8 L831.7,695.3 L834.6,694.9 L837.6,694.5 L840.6,694.0 L843.6,693.6 L846.6,693.2 L849.6,692.8 L852.5,692.4 L855.5,692.0 L858.5,691.6 L861.5,691.2 L864.5,690.8 L867.5,690.4 L870.5,690.0 L873.5,689.6 L876.5,689.3 L879.5,688.9 L882.5,688.6 L885.5,688.2 L888.5,687.8 L891.5,687.5 L894.5,687.2 L897.5,686.8 L900.5,686.5 L903.5,686.1 L906.5,685.8 L909.5,685.5 L912.5,685.2 L915.5,684.8 L918.5,684.5 L921.5,684.2 L924.5,683.9 L927.5,683.6 L930.5,683.3 L933.5,683.0 L936.5,682.7 L939.5,682.4 L942.5,682.1 L945.5,681.8 L948.5,681.5 L951.5,681.2 L954.5,680.9 L957.6,680.6 L960.6,680.3 L963.6,680.0 L966.6,679.8 L969.6,679.5 L972.6,679.2 L975.6,678.9 L978.6,678.6 L981.6,678.3 L984.6,678.1 L987.6,677.8 L990.6,677.5 L993.6,677.2 L996.6,677.0 L999.6,676.7 L1002.6,676.4 L1005.6,676.1 L1008.6,675.9 L1011.6,675.6 L1014.6,675.3 L1017.7,675.1 L1020.7,674.8 L1023.7,674.5 L1026.7,674.3 L1029.7,674.0 L1032.7,673.8 L1035.7,673.5 L1038.7,673.2 L1041.7,673.0 L1044.7,672.7 L1047.7,672.5 L1050.7,672.2 L1053.7,672.0 L1056.7,671.7 L1059.7,671.5 L1062.7,671.2 L1065.7,671.0 L1068.7,670.7 L1071.7,670.5 L1074.7,670.2 L1077.7,670.0 L1080.7,669.8 L1083.7,669.5 L1086.7,669.3 L1089.7,669.0 L1092.7,668.8 L1095.7,668.6 L1098.7,668.3 L1101.7,668.1 L1104.7,667.9 L1107.7,667.6 L1110.7,667.4 L1113.7,667.2 L1116.7,667.0 L1119.7,666.7 L1122.7,666.5 L1125.7,666.3 L1128.7,666.0 L1131.7,665.8 L1134.7,665.6 L1137.7,665.4 L1140.7,665.2 L1143.7,664.9 L1146.7,664.7 L1149.7,664.5 L1152.7,664.3 L1155.7,664.1 L1158.7,663.9 L1161.7,663.7 L1164.7,663.4 L1167.7,663.2 L1170.7,663.0 L1173.7,662.8 L1176.7,662.6 L1179.7,662.4 L1182.7,662.2 L1185.7,662.0 L1188.6,661.8 L1191.6,661.6 L1194.6,661.4 L1197.6,661.2 L1200.6,661.0 L1203.6,660.8 L1206.6,660.6 L1209.6,660.4 L1212.6,660.2 L1215.6,660.0 L1218.6,659.8 L1221.6,659.6 L1224.6,659.5 L1227.6,659.3 L1230.6,659.1 L1233.6,658.9 L1236.6,658.7 L1239.6,658.5 L1242.6,658.3 L1245.6,658.2 L1248.6,658.0 L1251.6,657.8 L1254.6,657.6 L1257.6,657.4 L1260.6,657.3 L1263.5,657.1 L1266.5,656.9 L1269.5,656.7 L1272.5,656.6 L1275.5,656.4 L1278.5,656.2 L1281.5,656.0 L1284.5,655.9 L1287.5,655.7 L1290.5,655.5 L1293.5,655.4 L1296.5,655.2 L1299.5,655.0 L1302.5,654.9 L1305.5,654.7 L1308.5,654.5 L1311.5,654.4 L1314.5,654.2 L1317.5,654.1 L1320.4,653.9 L1323.4,653.8 L1326.4,653.6 L1329.4,653.4 L1332.4,653.3 L1335.4,653.1 L1338.4,653.0 L1341.4,652.8 L1344.4,652.7 L1347.4,652.5 L1350.4,652.4 L1353.4,652.2 L1356.4,652.1 L1359.4,651.9 L1362.4,651.8 L1365.4,651.6 L1368.3,651.5 L1371.3,651.4 L1374.3,651.2 L1377.3,651.1 L1380.3,650.9 L1383.3,650.8 L1386.3,650.7 L1389.3,650.5 L1392.3,650.4 L1395.3,650.3 L1398.3,650.1 L1401.3,650.0 L1404.3,649.9 L1407.3,649.7 L1410.3,649.6 L1413.2,649.5 L1416.2,649.3 L1419.2,649.2 L1422.2,649.1 L1425.2,649.0 L1428.2,648.8 L1431.2,648.7 L1434.2,648.6 L1437.2,648.5 L1440.2,648.3 L1443.2,648.2 L1446.2,648.1 L1449.2,648.0 L1452.2,647.9 L1455.1,647.7 L1458.1,647.6 L1461.1,647.5 L1464.1,647.4 L1467.1,647.3 L1470.1,647.2 L1473.1,647.1 L1476.1,646.9 L1479.1,646.8 L1482.1,646.7 L1485.1,646.6 L1488.1,646.5 L1491.1,646.4 L1494.1,646.3 L1497.0,646.2 L1500.0,646.1 L1503.0,646.0 L1506.0,645.9 L1509.0,645.8 L1512.0,645.7 L1515.0,645.6 L1518.0,645.5 L1521.0,645.4 L1524.0,645.3 L1527.0,645.2 L1530.0,645.1 L1533.0,645.0 L1536.0,644.9 L1539.0,644.8 L1541.9,644.7 L1544.9,644.6 L1547.9,644.5 L1550.9,644.4 L1553.9,644.3 L1556.9,644.2 L1559.9,644.1 L1562.9,644.1 L1565.9,644.0 L1568.9,643.9 L1571.9,643.8 L1574.9,643.7 L1577.9,643.6 L1580.9,643.5 L1583.9,643.5 L1586.8,643.4 L1589.8,643.3 L1592.8,643.2 L1595.8,643.1 L1598.8,643.1 L1601.8,643.0 L1604.8,642.9 L1607.8,642.8 L1610.8,642.7 L1613.8,642.7 L1616.8,642.6 L1619.8,642.5 L1622.8,642.4 L1625.8,642.4 L1628.8,642.3 L1631.8,642.2 L1634.8,642.2 L1637.7,642.1 L1640.7,642.0 L1643.7,642.0 L1646.7,641.9 L1649.7,641.8 L1652.7,641.8 L1655.7,641.7 L1658.7,641.6 L1661.7,641.6 L1664.7,641.5 L1667.7,641.4 L1670.7,641.4 L1673.7,641.3 L1676.7,641.2 L1679.7,641.2 L1682.7,641.1 L1685.7,641.1 L1688.7,641.0 L1691.7,641.0 L1694.7,640.9 L1697.6,640.8 L1700.6,640.8 L1703.6,640.7 L1706.6,640.7 L1709.6,640.6 L1712.6,640.6 L1715.6,640.5 L1718.6,640.5 L1721.6,640.4 L1724.6,640.4 L1727.6,640.3 L1730.6,640.3 L1733.6,640.2 L1736.6,640.2 L1739.6,640.1 L1742.6,640.1 L1745.6,640.0 L1748.6,640.0 L1751.6,639.9 L1754.6,639.9 L1757.6,639.9 L1760.6,639.8 L1763.6,639.8 L1766.6,639.7 L1769.6,639.7 L1772.6,639.7 L1775.6,639.6 L1778.6,639.6 L1781.6,639.5 L1784.6,639.5 L1787.6,639.5 L1790.6,639.4 L1793.6,639.4 L1796.6,639.4 L1799.6,639.3 L1802.5,639.3 L1805.5,639.3 L1808.5,639.2 L1811.5,639.2 L1814.5,639.2 L1817.5,639.1 L1820.5,639.1 L1823.5,639.1 L1826.5,639.0 L1829.5,639.0 L1832.5,639.0 L1835.5,639.0 L1838.5,638.9 L1841.5,638.9 L1844.5,638.9 L1847.5,638.9 L1850.5,638.8 L1853.5,638.8 L1856.5,638.8 L1859.5,638.8 L1862.5,638.7 L1865.5,638.7 L1868.5,638.7 L1871.6,638.7 L1874.6,638.6 L1877.6,638.6 L1880.6,638.6 L1883.6,638.6 L1886.6,638.6 L1889.6,638.6 L1892.6,638.5 L1895.6,638.5 L1898.6,638.5 L1901.6,638.5 L1904.6,638.5 L1907.6,638.5 L1910.6,638.4 L1913.6,638.4 L1916.6,638.4 L1919.6,638.4 L1922.6,638.4 L1925.6,638.4 L1928.6,638.4 L1931.6,638.4 L1934.6,638.4 L1937.6,638.3 L1940.6,638.3 L1943.6,638.3 L1946.6,638.3 L1949.6,638.3 L1952.6,638.3 L1955.6,638.3 L1958.6,638.3 L1961.7,638.3 L1964.7,638.3 L1967.7,638.3 L1970.7,638.3 L1973.7,638.3 L1976.7,638.3 L1979.7,638.3 L1982.7,638.3 L1985.7,638.3 L1988.7,638.3 L1991.7,638.3 L1994.7,638.3 L1997.7,638.3 L2000.7,638.3 L2003.7,638.3 L2006.8,638.3 L2009.8,638.3 L2012.8,638.3 L2015.8,638.3 L2018.8,638.3 L2021.8,638.3 L2024.8,638.3 L2027.8,638.3 L2030.8,638.3 L2033.8,638.3 L2036.8,638.3 L2039.9,638.3 L2042.9,638.3 L2045.9,638.3 L2048.9,638.3 L2051.9,638.3 L2054.9,638.3 L2057.9,638.3 L2060.9,638.4 L2063.9,638.4 L2066.9,638.4 L2070.0,638.4 L2073.0,638.4 L2076.0,638.4 L2079.0,638.4 L2082.0,638.4 L2085.0,638.4 L2088.0,638.5 L2091.0,638.5 L2094.1,638.5 L2097.1,638.5 L2100.1,638.5 L2103.1,638.5 L2106.1,638.5 L2109.1,638.6 L2112.1,638.6 L2115.2,638.6 L2118.2,638.6 L2121.2,638.6 L2124.2,638.6 L2127.2,638.6 L2130.2,638.7 L2133.2,638.7 L2136.3,638.7 L2139.3,638.7 L2142.3,638.7 L2145.3,638.8 L2148.3,638.8 L2151.3,638.8 L2154.4,638.8 L2157.4,638.8 L2160.4,638.9 L2163.4,638.9 L2166.4,638.9 L2169.4,638.9 L2172.5,638.9 L2175.5,639.0 L2178.5,639.0 L2181.5,639.0 L2184.5,639.0 L2187.6,639.1 L2190.6,639.1 L2193.6,639.1 L2196.6,639.1 L2199.6,639.2 L2202.7,639.2 L2205.7,639.2 L2208.7,639.2 L2211.7,639.3 L2214.7,639.3 L2217.8,639.3 L2220.8,639.3 L2223.8,639.4 L2226.8,639.4 L2229.9,639.4 L2232.9,639.5 L2235.9,639.5 L2238.9,639.5 L2242.0,639.5 L2245.0,639.6 L2248.0,639.6" fill="none" stroke="#D95319" stroke-width="5.0" stroke-linejoin="round" stroke-dasharray="10 6" />
<path d="M356.6,1489.0 L357.3,1486.0 L357.9,1483.0 L358.5,1480.1 L359.2,1477.1 L359.8,1474.1 L360.4,1471.1 L360.9,1468.1 L361.5,1465.1 L362.1,1462.2 L362.6,1459.2 L363.2,1456.2 L363.7,1453.2 L364.2,1450.3 L364.7,1447.3 L365.2,1444.3 L365.7,1441.3 L366.2,1438.4 L366.7,1435.4 L367.2,1432.4 L367.6,1429.4 L368.1,1426.5 L368.5,1423.5 L368.9,1420.5 L369.4,1417.5 L369.8,1414.6 L370.2,1411.6 L370.6,1408.6 L371.0,1405.7 L371.3,1402.7 L371.7,1399.7 L372.1,1396.8 L372.5,1393.8 L372.8,1390.8 L373.2,1387.9 L373.5,1384.9 L373.8,1381.9 L374.2,1379.0 L374.5,1376.0 L374.8,1373.0 L375.1,1370.1 L375.4,1367.1 L375.7,1364.1 L376.0,1361.2 L376.3,1358.2 L376.6,1355.2 L376.9,1352.3 L377.1,1349.3 L377.4,1346.3 L377.7,1343.4 L377.9,1340.4 L378.2,1337.4 L378.4,1334.5 L378.7,1331.5 L378.9,1328.5 L379.2,1325.6 L379.4,1322.6 L379.7,1319.6 L379.9,1316.7 L380.1,1313.7 L380.4,1310.7 L380.6,1307.8 L380.8,1304.8 L381.0,1301.8 L381.3,1298.8 L381.5,1295.9 L381.7,1292.9 L381.9,1289.9 L382.1,1287.0 L382.3,1284.0 L382.5,1281.0 L382.8,1278.1 L383.0,1275.1 L383.2,1272.1 L383.4,1269.1 L383.6,1266.2 L383.8,1263.2 L384.0,1260.2 L384.2,1257.3 L384.4,1254.3 L384.6,1251.3 L384.9,1248.3 L385.1,1245.3 L385.3,1242.4 L385.5,1239.4 L385.7,1236.4 L385.9,1233.4 L386.2,1230.5 L386.4,1227.5 L386.6,1224.5 L386.8,1221.5 L387.1,1218.5 L387.3,1215.5 L387.5,1212.6 L387.8,1209.6 L388.0,1206.6 L388.2,1203.6 L388.5,1200.6 L388.7,1197.6 L389.0,1194.6 L389.2,1191.6 L389.5,1188.7 L389.8,1185.7 L390.0,1182.7 L390.3,1179.7 L390.6,1176.7 L390.9,1173.7 L391.2,1170.7 L391.5,1167.7 L391.8,1164.7 L392.1,1161.7 L392.4,1158.7 L392.7,1155.7 L393.0,1152.7 L393.3,1149.7 L393.7,1146.7 L394.0,1143.7 L394.4,1140.7 L394.7,1137.6 L395.1,1134.6 L395.4,1131.6 L395.8,1128.6 L396.2,1125.6 L396.6,1122.6 L397.0,1119.6 L397.4,1116.5 L397.8,1113.5 L398.2,1110.5 L398.7,1107.5 L399.1,1104.4 L399.5,1101.4 L400.0,1098.4 L400.5,1095.4 L400.9,1092.3 L401.4,1089.3 L401.9,1086.3 L402.4,1083.2 L402.9,1080.2 L403.5,1077.2 L404.0,1074.1 L404.5,1071.1 L405.1,1068.1 L405.6,1065.1 L406.2,1062.0 L406.8,1059.0 L407.4,1056.0 L408.0,1052.9 L408.6,1049.9 L409.2,1046.9 L409.9,1043.9 L410.5,1040.9 L411.2,1037.9 L411.9,1034.8 L412.5,1031.8 L413.2,1028.8 L414.0,1025.8 L414.7,1022.8 L415.4,1019.9 L416.2,1016.9 L416.9,1013.9 L417.7,1010.9 L418.5,1007.9 L419.3,1005.0 L420.1,1002.0 L420.9,999.1 L421.7,996.1 L422.6,993.2 L423.5,990.2 L424.3,987.3 L425.2,984.4 L426.2,981.5 L427.1,978.5 L428.0,975.6 L429.0,972.8 L429.9,969.9 L430.9,967.0 L431.9,964.1 L432.9,961.3 L434.0,958.4 L435.0,955.6 L436.1,952.7 L437.1,949.9 L438.2,947.1 L439.3,944.3 L440.5,941.5 L441.6,938.7 L442.8,935.9 L443.9,933.2 L445.1,930.4 L446.3,927.7 L447.6,924.9 L448.8,922.2 L450.1,919.5 L451.3,916.8 L452.6,914.1 L453.9,911.5 L455.3,908.8 L456.6,906.2 L458.0,903.5 L459.4,900.9 L460.8,898.3 L462.2,895.7 L463.6,893.1 L465.1,890.6 L466.6,888.0 L468.1,885.5 L469.6,883.0 L471.1,880.5 L472.7,878.0 L474.3,875.5 L475.9,873.1 L477.5,870.6 L479.1,868.2 L480.8,865.8 L482.4,863.4 L484.1,861.0 L485.9,858.7 L487.6,856.3 L489.4,854.0 L491.2,851.7 L493.0,849.4 L494.8,847.1 L496.6,844.9 L498.5,842.7 L500.4,840.4 L502.3,838.3 L504.2,836.1 L506.2,833.9 L508.2,831.8 L510.2,829.7 L512.2,827.6 L514.2,825.5 L516.3,823.5 L518.4,821.4 L520.5,819.4 L522.7,817.4 L524.8,815.4 L527.0,813.5 L529.2,811.6 L531.5,809.7 L533.7,807.8 L536.0,805.9 L538.3,804.1 L540.6,802.2 L543.0,800.4 L545.3,798.7 L547.7,796.9 L550.1,795.2 L552.5,793.4 L554.9,791.7 L557.4,790.1 L559.9,788.4 L562.4,786.8 L564.9,785.1 L567.4,783.5 L569.9,782.0 L572.5,780.4 L575.1,778.9 L577.7,777.3 L580.3,775.8 L582.9,774.4 L585.5,772.9 L588.2,771.4 L590.8,770.0 L593.5,768.6 L596.2,767.2 L598.9,765.8 L601.6,764.5 L604.3,763.2 L607.0,761.8 L609.8,760.5 L612.5,759.3 L615.3,758.0 L618.1,756.7 L620.9,755.5 L623.6,754.3 L626.4,753.1 L629.3,751.9 L632.1,750.8 L634.9,749.7 L637.7,748.5 L640.6,747.4 L643.4,746.3 L646.3,745.3 L649.1,744.2 L652.0,743.2 L654.9,742.2 L657.7,741.1 L660.6,740.2 L663.5,739.2 L666.4,738.2 L669.3,737.3 L672.2,736.4 L675.1,735.4 L678.0,734.5 L680.9,733.7 L683.8,732.8 L686.8,731.9 L689.7,731.1 L692.6,730.3 L695.6,729.5 L698.5,728.6 L701.4,727.9 L704.4,727.1 L707.3,726.3 L710.3,725.6 L713.2,724.8 L716.2,724.1 L719.2,723.4 L722.1,722.7 L725.1,722.0 L728.1,721.3 L731.0,720.6 L734.0,719.9 L737.0,719.3 L740.0,718.7 L742.9,718.0 L745.9,717.4 L748.9,716.8 L751.9,716.2 L754.9,715.6 L757.9,715.0 L760.9,714.4 L763.8,713.8 L766.8,713.3 L769.8,712.7 L772.8,712.1 L775.8,711.6 L778.8,711.1 L781.8,710.5 L784.8,710.0 L787.8,709.5 L790.8,709.0 L793.8,708.5 L796.8,708.0 L799.7,707.5 L802.7,707.0 L805.7,706.5 L808.7,706.0 L811.7,705.5 L814.7,705.1 L817.7,704.6 L820.7,704.1 L823.7,703.7 L826.6,703.2 L829.6,702.8 L832.6,702.3 L835.6,701.9 L838.6,701.5 L841.6,701.0 L844.5,700.6 L847.5,700.2 L850.5,699.8 L853.5,699.4 L856.5,699.0 L859.5,698.6 L862.4,698.2 L865.4,697.8 L868.4,697.4 L871.4,697.0 L874.4,696.6 L877.3,696.2 L880.3,695.9 L883.3,695.5 L886.3,695.1 L889.2,694.8 L892.2,694.4 L895.2,694.0 L898.2,693.7 L901.2,693.3 L904.1,693.0 L907.1,692.7 L910.1,692.3 L913.1,692.0 L916.0,691.7 L919.0,691.3 L922.0,691.0 L925.0,690.7 L927.9,690.4 L930.9,690.1 L933.9,689.8 L936.9,689.5 L939.8,689.1 L942.8,688.8 L945.8,688.6 L948.8,688.3 L951.7,688.0 L954.7,687.7 L957.7,687.4 L960.7,687.1 L963.6,686.8 L966.6,686.6 L969.6,686.3 L972.6,686.0 L975.5,685.7 L978.5,685.5 L981.5,685.2 L984.4,685.0 L987.4,684.7 L990.4,684.4 L993.4,684.2 L996.4,683.9 L999.3,683.7 L1002.3,683.4 L1005.3,683.2 L1008.3,683.0 L1011.2,682.7 L1014.2,682.5 L1017.2,682.3 L1020.2,682.0 L1023.1,681.8 L1026.1,681.6 L1029.1,681.3 L1032.1,681.1 L1035.1,680.9 L1038.0,680.7 L1041.0,680.4 L1044.0,680.2 L1047.0,680.0 L1050.0,679.8 L1052.9,679.6 L1055.9,679.4 L1058.9,679.2 L1061.9,679.0 L1064.9,678.8 L1067.8,678.6 L1070.8,678.3 L1073.8,678.1 L1076.8,677.9 L1079.8,677.7 L1082.8,677.6 L1085.8,677.4 L1088.7,677.2 L1091.7,677.0 L1094.7,676.8 L1097.7,676.6 L1100.7,676.4 L1103.7,676.2 L1106.7,676.0 L1109.7,675.8 L1112.6,675.6 L1115.6,675.4 L1118.6,675.3 L1121.6,675.1 L1124.6,674.9 L1127.6,674.7 L1130.6,674.5 L1133.6,674.3 L1136.6,674.2 L1139.6,674.0 L1142.6,673.8 L1145.6,673.6 L1148.6,673.4 L1151.6,673.3 L1154.6,673.1 L1157.6,672.9 L1160.6,672.7 L1163.6,672.5 L1166.6,672.4 L1169.6,672.2 L1172.6,672.0 L1175.6,671.8 L1178.6,671.7 L1181.7,671.5 L1184.7,671.3 L1187.7,671.1 L1190.7,670.9 L1193.7,670.8 L1196.7,670.6 L1199.7,670.4 L1202.7,670.2 L1205.8,670.0 L1208.8,669.9 L1211.8,669.7 L1214.8,669.5 L1217.8,669.3 L1220.9,669.1 L1223.9,669.0 L1226.9,668.8 L1229.9,668.6 L1233.0,668.4 L1236.0,668.2 L1239.0,668.0 L1242.0,667.8 L1245.1,667.6 L1248.1,667.5 L1251.1,667.3 L1254.2,667.1 L1257.2,666.9 L1260.3,666.7 L1263.3,666.5 L1266.3,666.3 L1269.4,666.1 L1272.4,665.9 L1275.5,665.7 L1278.5,665.5 L1280.3,420.0 L1281.7,127.0 L1283.4,300.0 L1285.5,470.0 L1290.0,332.0 L1293.4,244.0 L1294.2,530.0 L1295.2,592.9 L1297.3,655.7 L1300.0,697.6 L1303.1,712.8 L1303.1,712.8 L1304.1,710.0 L1305.0,707.3 L1306.0,704.5 L1307.0,701.7 L1308.0,698.9 L1309.1,696.1 L1310.2,693.3 L1311.3,690.5 L1312.4,687.7 L1313.6,685.0 L1314.7,682.2 L1315.9,679.4 L1317.2,676.6 L1318.5,673.9 L1319.8,671.1 L1321.1,668.4 L1322.4,665.7 L1323.8,663.0 L1325.3,660.3 L1326.7,657.6 L1328.2,655.0 L1329.8,652.4 L1331.3,649.8 L1332.9,647.2 L1334.6,644.6 L1336.2,642.1 L1338.0,639.6 L1339.7,637.1 L1341.5,634.7 L1343.4,632.3 L1345.2,629.9 L1347.2,627.6 L1349.1,625.3 L1351.1,623.0 L1353.1,620.8 L1355.2,618.6 L1357.3,616.4 L1359.4,614.3 L1361.6,612.2 L1363.8,610.1 L1366.0,608.1 L1368.3,606.1 L1370.5,604.1 L1372.9,602.2 L1375.2,600.3 L1377.6,598.5 L1380.0,596.7 L1382.4,594.9 L1384.8,593.2 L1387.3,591.5 L1389.8,589.9 L1392.3,588.3 L1394.9,586.7 L1397.4,585.2 L1400.0,583.7 L1402.6,582.3 L1405.2,580.9 L1407.9,579.5 L1410.5,578.2 L1413.2,577.0 L1415.9,575.8 L1418.6,574.6 L1421.3,573.5 L1424.0,572.4 L1426.8,571.3 L1429.5,570.3 L1432.3,569.4 L1435.1,568.4 L1437.9,567.5 L1440.7,566.7 L1443.5,565.9 L1446.3,565.1 L1449.2,564.4 L1452.0,563.7 L1454.9,563.0 L1457.8,562.4 L1460.7,561.8 L1463.6,561.2 L1466.5,560.7 L1469.4,560.2 L1472.3,559.7 L1475.2,559.2 L1478.2,558.8 L1481.1,558.4 L1484.1,558.1 L1487.1,557.7 L1490.1,557.4 L1493.0,557.1 L1496.0,556.8 L1499.0,556.6 L1502.0,556.4 L1505.0,556.2 L1508.1,556.0 L1511.1,555.8 L1514.1,555.7 L1517.2,555.5 L1520.2,555.4 L1523.2,555.3 L1526.3,555.2 L1529.3,555.2 L1532.4,555.1 L1535.4,555.1 L1538.5,555.0 L1541.6,555.0 L1544.6,555.0 L1547.7,555.0 L1550.8,555.0 L1553.9,555.0 L1556.9,555.0 L1560.0,555.1 L1563.1,555.1 L1566.2,555.1 L1569.2,555.2 L1572.3,555.2 L1575.4,555.3 L1578.5,555.3 L1581.6,555.4 L1584.6,555.4 L1587.7,555.5 L1590.8,555.5 L1593.9,555.6 L1596.9,555.6 L1600.0,555.6 L1603.1,555.7 L1606.1,555.7 L1609.2,555.7 L1612.2,555.8 L1615.3,555.8 L1618.4,555.8 L1621.4,555.9 L1624.5,555.9 L1627.5,555.9 L1630.6,555.9 L1633.6,556.0 L1636.7,556.0 L1639.7,556.0 L1642.8,556.0 L1645.8,556.0 L1648.9,556.0 L1651.9,556.1 L1655.0,556.1 L1658.0,556.1 L1661.0,556.1 L1664.1,556.1 L1667.1,556.1 L1670.2,556.1 L1673.2,556.1 L1676.2,556.1 L1679.3,556.1 L1682.3,556.1 L1685.3,556.1 L1688.3,556.1 L1691.4,556.1 L1694.4,556.1 L1697.4,556.1 L1700.4,556.0 L1703.5,556.0 L1706.5,556.0 L1709.5,556.0 L1712.5,556.0 L1715.6,556.0 L1718.6,556.0 L1721.6,555.9 L1724.6,555.9 L1727.6,555.9 L1730.6,555.9 L1733.6,555.9 L1736.7,555.8 L1739.7,555.8 L1742.7,555.8 L1745.7,555.8 L1748.7,555.7 L1751.7,555.7 L1754.7,555.7 L1757.7,555.6 L1760.7,555.6 L1763.7,555.6 L1766.7,555.5 L1769.7,555.5 L1772.7,555.5 L1775.7,555.4 L1778.7,555.4 L1781.7,555.4 L1784.7,555.3 L1787.7,555.3 L1790.7,555.2 L1793.7,555.2 L1796.7,555.2 L1799.7,555.1 L1802.7,555.1 L1805.7,555.0 L1808.7,555.0 L1811.7,554.9 L1814.7,554.9 L1817.7,554.8 L1820.7,554.8 L1823.7,554.7 L1826.7,554.7 L1829.7,554.7 L1832.7,554.6 L1835.7,554.6 L1838.6,554.5 L1841.6,554.5 L1844.6,554.4 L1847.6,554.4 L1850.6,554.3 L1853.6,554.3 L1856.6,554.2 L1859.6,554.1 L1862.6,554.1 L1865.5,554.0 L1868.5,554.0 L1871.5,553.9 L1874.5,553.9 L1877.5,553.8 L1880.5,553.8 L1883.5,553.7 L1886.4,553.7 L1889.4,553.6 L1892.4,553.6 L1895.4,553.5 L1898.4,553.4 L1901.4,553.4 L1904.4,553.3 L1907.3,553.3 L1910.3,553.2 L1913.3,553.2 L1916.3,553.1 L1919.3,553.1 L1922.3,553.0 L1925.3,552.9 L1928.2,552.9 L1931.2,552.8 L1934.2,552.8 L1937.2,552.7 L1940.2,552.7 L1943.2,552.6 L1946.2,552.6 L1949.1,552.5 L1952.1,552.5 L1955.1,552.4 L1958.1,552.3 L1961.1,552.3 L1964.1,552.2 L1967.1,552.2 L1970.0,552.1 L1973.0,552.1 L1976.0,552.0 L1979.0,552.0 L1982.0,551.9 L1985.0,551.9 L1988.0,551.8 L1991.0,551.8 L1994.0,551.7 L1996.9,551.7 L1999.9,551.6 L2002.9,551.6 L2005.9,551.5 L2008.9,551.5 L2011.9,551.4 L2014.9,551.4 L2017.9,551.4 L2020.9,551.3 L2023.9,551.3 L2026.9,551.2 L2029.9,551.2 L2032.9,551.1 L2035.9,551.1 L2038.9,551.1 L2041.9,551.0 L2044.9,551.0 L2047.9,550.9 L2050.9,550.9 L2053.9,550.9 L2056.9,550.8 L2059.9,550.8 L2062.9,550.8 L2065.9,550.7 L2068.9,550.7 L2071.9,550.7 L2074.9,550.6 L2077.9,550.6 L2080.9,550.6 L2083.9,550.6 L2086.9,550.5 L2089.9,550.5 L2092.9,550.5 L2095.9,550.5 L2099.0,550.4 L2102.0,550.4 L2105.0,550.4 L2108.0,550.4 L2111.0,550.4 L2114.0,550.3 L2117.1,550.3 L2120.1,550.3 L2123.1,550.3 L2126.1,550.3 L2129.1,550.3 L2132.2,550.3 L2135.2,550.2 L2138.2,550.2 L2141.2,550.2 L2144.3,550.2 L2147.3,550.2 L2150.3,550.2 L2153.4,550.2 L2156.4,550.2 L2159.4,550.2 L2162.5,550.2 L2165.5,550.2 L2168.5,550.2 L2171.6,550.3 L2174.6,550.3 L2177.7,550.3 L2180.7,550.3 L2183.7,550.3 L2186.8,550.3 L2189.8,550.3 L2192.9,550.4 L2195.9,550.4 L2199.0,550.4 L2202.0,550.4 L2205.1,550.5 L2208.1,550.5 L2211.2,550.5 L2214.3,550.5 L2217.3,550.6 L2220.4,550.6 L2223.4,550.6 L2226.5,550.7 L2229.6,550.7 L2232.6,550.8 L2235.7,550.8 L2238.8,550.9 L2241.9,550.9 L2244.9,550.9 L2248.0,551.0" fill="none" stroke="#7E2F8E" stroke-width="6.8" stroke-linejoin="round" stroke-linecap="round" />
<path d="M356.5,1463.0 L356.8,1460.0 L357.1,1457.0 L357.4,1454.0 L357.7,1451.0 L358.0,1447.9 L358.2,1444.9 L358.5,1441.9 L358.8,1438.9 L359.1,1435.9 L359.4,1432.9 L359.6,1429.9 L359.9,1426.9 L360.1,1423.9 L360.4,1420.9 L360.7,1417.9 L360.9,1414.9 L361.2,1411.8 L361.4,1408.8 L361.7,1405.8 L361.9,1402.8 L362.2,1399.8 L362.4,1396.8 L362.6,1393.8 L362.9,1390.8 L363.1,1387.8 L363.3,1384.8 L363.6,1381.8 L363.8,1378.8 L364.0,1375.8 L364.3,1372.8 L364.5,1369.8 L364.7,1366.8 L364.9,1363.8 L365.1,1360.8 L365.4,1357.8 L365.6,1354.8 L365.8,1351.9 L366.0,1348.9 L366.2,1345.9 L366.5,1342.9 L366.7,1339.9 L366.9,1336.9 L367.1,1333.9 L367.3,1330.9 L367.5,1327.9 L367.7,1324.9 L368.0,1321.9 L368.2,1318.9 L368.4,1315.9 L368.6,1313.0 L368.8,1310.0 L369.0,1307.0 L369.2,1304.0 L369.5,1301.0 L369.7,1298.0 L369.9,1295.0 L370.1,1292.0 L370.3,1289.0 L370.5,1286.1 L370.8,1283.1 L371.0,1280.1 L371.2,1277.1 L371.4,1274.1 L371.6,1271.1 L371.9,1268.1 L372.1,1265.2 L372.3,1262.2 L372.5,1259.2 L372.8,1256.2 L373.0,1253.2 L373.2,1250.2 L373.5,1247.3 L373.7,1244.3 L373.9,1241.3 L374.2,1238.3 L374.4,1235.3 L374.7,1232.4 L374.9,1229.4 L375.2,1226.4 L375.4,1223.4 L375.7,1220.4 L375.9,1217.5 L376.2,1214.5 L376.5,1211.5 L376.7,1208.5 L377.0,1205.5 L377.3,1202.6 L377.5,1199.6 L377.8,1196.6 L378.1,1193.6 L378.4,1190.7 L378.7,1187.7 L378.9,1184.7 L379.2,1181.7 L379.5,1178.8 L379.8,1175.8 L380.1,1172.8 L380.4,1169.8 L380.8,1166.9 L381.1,1163.9 L381.4,1160.9 L381.7,1157.9 L382.0,1155.0 L382.4,1152.0 L382.7,1149.0 L383.1,1146.0 L383.4,1143.1 L383.7,1140.1 L384.1,1137.1 L384.5,1134.1 L384.8,1131.2 L385.2,1128.2 L385.6,1125.2 L385.9,1122.3 L386.3,1119.3 L386.7,1116.3 L387.1,1113.3 L387.5,1110.4 L387.9,1107.4 L388.3,1104.4 L388.7,1101.5 L389.2,1098.5 L389.6,1095.5 L390.0,1092.5 L390.5,1089.6 L390.9,1086.6 L391.4,1083.6 L391.8,1080.7 L392.3,1077.7 L392.8,1074.7 L393.2,1071.8 L393.7,1068.8 L394.2,1065.8 L394.7,1062.8 L395.2,1059.9 L395.7,1056.9 L396.2,1053.9 L396.7,1051.0 L397.3,1048.0 L397.8,1045.0 L398.3,1042.1 L398.9,1039.1 L399.5,1036.1 L400.0,1033.2 L400.6,1030.2 L401.2,1027.2 L401.8,1024.3 L402.4,1021.3 L403.0,1018.3 L403.6,1015.4 L404.2,1012.4 L404.8,1009.4 L405.4,1006.4 L406.1,1003.5 L406.7,1000.5 L407.4,997.5 L408.1,994.6 L408.7,991.6 L409.4,988.6 L410.1,985.7 L410.8,982.7 L411.5,979.7 L412.3,976.8 L413.0,973.8 L413.7,970.9 L414.5,967.9 L415.2,964.9 L416.0,962.0 L416.8,959.0 L417.6,956.1 L418.4,953.1 L419.2,950.2 L420.0,947.3 L420.9,944.3 L421.7,941.4 L422.6,938.5 L423.5,935.5 L424.4,932.6 L425.3,929.7 L426.2,926.8 L427.1,923.9 L428.1,921.0 L429.0,918.1 L430.0,915.2 L431.0,912.4 L432.0,909.5 L433.0,906.6 L434.0,903.8 L435.1,900.9 L436.1,898.1 L437.2,895.2 L438.3,892.4 L439.4,889.6 L440.6,886.8 L441.7,884.0 L442.9,881.2 L444.0,878.4 L445.2,875.6 L446.4,872.8 L447.7,870.1 L448.9,867.3 L450.2,864.6 L451.5,861.9 L452.8,859.1 L454.1,856.4 L455.4,853.7 L456.8,851.1 L458.2,848.4 L459.6,845.7 L461.0,843.1 L462.4,840.4 L463.9,837.8 L465.4,835.2 L466.9,832.6 L468.4,830.0 L469.9,827.4 L471.5,824.9 L473.1,822.3 L474.7,819.8 L476.3,817.3 L477.9,814.8 L479.6,812.3 L481.3,809.8 L483.0,807.4 L484.7,804.9 L486.4,802.5 L488.2,800.1 L490.0,797.7 L491.8,795.3 L493.6,793.0 L495.4,790.6 L497.3,788.3 L499.2,786.0 L501.1,783.7 L503.0,781.5 L504.9,779.2 L506.9,777.0 L508.9,774.8 L510.9,772.6 L512.9,770.5 L514.9,768.3 L517.0,766.2 L519.0,764.1 L521.1,762.0 L523.3,760.0 L525.4,757.9 L527.5,755.9 L529.7,753.9 L531.9,751.9 L534.1,750.0 L536.3,748.1 L538.5,746.2 L540.8,744.3 L543.1,742.5 L545.4,740.6 L547.7,738.8 L550.0,737.1 L552.4,735.3 L554.7,733.6 L557.1,731.9 L559.5,730.2 L561.9,728.5 L564.3,726.8 L566.8,725.2 L569.2,723.6 L571.7,722.0 L574.2,720.5 L576.7,718.9 L579.2,717.4 L581.8,715.9 L584.3,714.5 L586.9,713.0 L589.4,711.6 L592.0,710.1 L594.6,708.7 L597.2,707.4 L599.9,706.0 L602.5,704.7 L605.2,703.3 L607.8,702.0 L610.5,700.8 L613.2,699.5 L615.9,698.2 L618.6,697.0 L621.3,695.8 L624.1,694.6 L626.8,693.4 L629.6,692.3 L632.4,691.1 L635.1,690.0 L637.9,688.9 L640.7,687.8 L643.5,686.7 L646.3,685.7 L649.2,684.6 L652.0,683.6 L654.8,682.6 L657.7,681.6 L660.5,680.6 L663.4,679.7 L666.3,678.7 L669.2,677.8 L672.1,676.8 L675.0,675.9 L677.9,675.0 L680.8,674.2 L683.7,673.3 L686.6,672.5 L689.5,671.6 L692.5,670.8 L695.4,670.0 L698.4,669.2 L701.3,668.4 L704.3,667.6 L707.2,666.8 L710.2,666.1 L713.2,665.4 L716.1,664.6 L719.1,663.9 L722.1,663.2 L725.1,662.5 L728.1,661.8 L731.1,661.2 L734.1,660.5 L737.0,659.9 L740.0,659.2 L743.0,658.6 L746.0,658.0 L749.1,657.4 L752.1,656.8 L755.1,656.2 L758.1,655.6 L761.1,655.0 L764.1,654.4 L767.1,653.9 L770.1,653.3 L773.1,652.8 L776.1,652.3 L779.1,651.7 L782.1,651.2 L785.2,650.7 L788.2,650.2 L791.2,649.7 L794.2,649.2 L797.2,648.8 L800.2,648.3 L803.2,647.8 L806.2,647.4 L809.2,646.9 L812.2,646.5 L815.2,646.0 L818.2,645.6 L821.2,645.2 L824.2,644.7 L827.2,644.3 L830.2,643.9 L833.2,643.5 L836.1,643.1 L839.1,642.7 L842.1,642.4 L845.1,642.0 L848.1,641.6 L851.1,641.3 L854.1,640.9 L857.1,640.5 L860.1,640.2 L863.1,639.9 L866.0,639.5 L869.0,639.2 L872.0,638.9 L875.0,638.6 L878.0,638.2 L881.0,637.9 L884.0,637.6 L886.9,637.3 L889.9,637.0 L892.9,636.7 L895.9,636.5 L898.9,636.2 L901.9,635.9 L904.8,635.6 L907.8,635.4 L910.8,635.1 L913.8,634.8 L916.8,634.6 L919.7,634.3 L922.7,634.1 L925.7,633.9 L928.7,633.6 L931.6,633.4 L934.6,633.2 L937.6,632.9 L940.6,632.7 L943.6,632.5 L946.5,632.3 L949.5,632.1 L952.5,631.8 L955.5,631.6 L958.4,631.4 L961.4,631.2 L964.4,631.0 L967.4,630.9 L970.3,630.7 L973.3,630.5 L976.3,630.3 L979.3,630.1 L982.2,629.9 L985.2,629.8 L988.2,629.6 L991.2,629.4 L994.1,629.2 L997.1,629.1 L1000.1,628.9 L1003.1,628.8 L1006.1,628.6 L1009.0,628.4 L1012.0,628.3 L1015.0,628.1 L1018.0,628.0 L1020.9,627.8 L1023.9,627.7 L1026.9,627.5 L1029.9,627.4 L1032.8,627.2 L1035.8,627.1 L1038.8,626.9 L1041.8,626.8 L1044.7,626.7 L1047.7,626.5 L1050.7,626.4 L1053.7,626.2 L1056.7,626.1 L1059.6,626.0 L1062.6,625.8 L1065.6,625.7 L1068.6,625.6 L1071.6,625.4 L1074.5,625.3 L1077.5,625.2 L1080.5,625.0 L1083.5,624.9 L1086.5,624.8 L1089.5,624.6 L1092.4,624.5 L1095.4,624.4 L1098.4,624.2 L1101.4,624.1 L1104.4,624.0 L1107.4,623.8 L1110.3,623.7 L1113.3,623.6 L1116.3,623.4 L1119.3,623.3 L1122.3,623.2 L1125.3,623.0 L1128.3,622.9 L1131.3,622.7 L1134.3,622.6 L1137.2,622.5 L1140.2,622.3 L1143.2,622.2 L1146.2,622.0 L1149.2,621.9 L1152.2,621.7 L1155.2,621.6 L1158.2,621.4 L1161.2,621.3 L1164.2,621.1 L1167.2,621.0 L1170.2,620.8 L1173.2,620.6 L1176.2,620.5 L1179.2,620.3 L1182.2,620.1 L1185.2,620.0 L1188.2,619.8 L1191.2,619.6 L1194.2,619.5 L1197.2,619.3 L1200.2,619.1 L1203.3,618.9 L1206.3,618.7 L1209.3,618.5 L1212.3,618.3 L1215.3,618.1 L1218.3,617.9 L1221.3,617.7 L1224.4,617.5 L1227.4,617.3 L1230.4,617.1 L1233.4,616.9 L1236.4,616.7 L1239.4,616.4 L1242.5,616.2 L1245.5,616.0 L1248.5,615.7 L1251.5,615.5 L1254.6,615.3 L1257.6,615.0 L1260.6,614.8 L1263.7,614.5 L1266.7,614.2 L1269.7,614.0 L1272.8,613.7 L1275.8,613.4 L1278.8,613.2 L1281.9,612.9 L1284.9,612.6 L1288.0,612.3 L1291.0,612.0 L1293.2,700.0 L1293.2,1080.0 L1293.8,1441.0 L1296.0,1460.0 L1301.0,1469.0 L1306.5,1466.5 L1306.5,1466.5 L1306.9,1463.4 L1307.2,1460.4 L1307.6,1457.3 L1307.9,1454.2 L1308.3,1451.2 L1308.6,1448.1 L1309.0,1445.1 L1309.3,1442.1 L1309.6,1439.0 L1310.0,1436.0 L1310.3,1432.9 L1310.6,1429.9 L1311.0,1426.9 L1311.3,1423.9 L1311.6,1420.9 L1311.9,1417.8 L1312.2,1414.8 L1312.5,1411.8 L1312.8,1408.8 L1313.1,1405.8 L1313.5,1402.8 L1313.8,1399.8 L1314.0,1396.8 L1314.3,1393.9 L1314.6,1390.9 L1314.9,1387.9 L1315.2,1384.9 L1315.5,1381.9 L1315.8,1378.9 L1316.1,1376.0 L1316.4,1373.0 L1316.6,1370.0 L1316.9,1367.1 L1317.2,1364.1 L1317.5,1361.1 L1317.8,1358.2 L1318.0,1355.2 L1318.3,1352.3 L1318.6,1349.3 L1318.8,1346.3 L1319.1,1343.4 L1319.4,1340.4 L1319.7,1337.5 L1319.9,1334.5 L1320.2,1331.6 L1320.5,1328.6 L1320.7,1325.7 L1321.0,1322.8 L1321.3,1319.8 L1321.5,1316.9 L1321.8,1313.9 L1322.0,1311.0 L1322.3,1308.0 L1322.6,1305.1 L1322.8,1302.2 L1323.1,1299.2 L1323.4,1296.3 L1323.6,1293.3 L1323.9,1290.4 L1324.2,1287.5 L1324.4,1284.5 L1324.7,1281.6 L1325.0,1278.6 L1325.2,1275.7 L1325.5,1272.8 L1325.8,1269.8 L1326.0,1266.9 L1326.3,1263.9 L1326.6,1261.0 L1326.8,1258.1 L1327.1,1255.1 L1327.4,1252.2 L1327.7,1249.2 L1327.9,1246.3 L1328.2,1243.3 L1328.5,1240.4 L1328.8,1237.4 L1329.1,1234.5 L1329.3,1231.5 L1329.6,1228.6 L1329.9,1225.6 L1330.2,1222.7 L1330.5,1219.7 L1330.8,1216.7 L1331.1,1213.8 L1331.4,1210.8 L1331.7,1207.8 L1332.0,1204.9 L1332.3,1201.9 L1332.6,1198.9 L1332.9,1196.0 L1333.2,1193.0 L1333.5,1190.0 L1333.9,1187.0 L1334.2,1184.0 L1334.5,1181.1 L1334.8,1178.1 L1335.1,1175.1 L1335.5,1172.1 L1335.8,1169.1 L1336.2,1166.1 L1336.5,1163.1 L1336.8,1160.1 L1337.2,1157.1 L1337.5,1154.0 L1337.9,1151.0 L1338.3,1148.0 L1338.6,1145.0 L1339.0,1141.9 L1339.4,1138.9 L1339.7,1135.9 L1340.1,1132.8 L1340.5,1129.8 L1340.9,1126.8 L1341.3,1123.7 L1341.7,1120.7 L1342.1,1117.6 L1342.5,1114.6 L1342.9,1111.5 L1343.3,1108.5 L1343.7,1105.4 L1344.2,1102.4 L1344.6,1099.3 L1345.1,1096.2 L1345.5,1093.2 L1346.0,1090.1 L1346.5,1087.1 L1346.9,1084.0 L1347.4,1081.0 L1347.9,1077.9 L1348.4,1074.9 L1348.9,1071.8 L1349.5,1068.8 L1350.0,1065.7 L1350.5,1062.7 L1351.1,1059.6 L1351.6,1056.6 L1352.2,1053.5 L1352.8,1050.5 L1353.4,1047.5 L1354.0,1044.4 L1354.6,1041.4 L1355.2,1038.4 L1355.8,1035.4 L1356.5,1032.4 L1357.1,1029.4 L1357.8,1026.4 L1358.5,1023.4 L1359.2,1020.4 L1359.9,1017.4 L1360.6,1014.4 L1361.3,1011.4 L1362.1,1008.4 L1362.9,1005.5 L1363.6,1002.5 L1364.4,999.6 L1365.2,996.6 L1366.0,993.7 L1366.9,990.7 L1367.7,987.8 L1368.6,984.9 L1369.4,982.0 L1370.3,979.1 L1371.2,976.2 L1372.2,973.3 L1373.1,970.4 L1374.1,967.6 L1375.0,964.7 L1376.0,961.9 L1377.0,959.0 L1378.0,956.2 L1379.1,953.4 L1380.1,950.6 L1381.2,947.8 L1382.3,945.0 L1383.4,942.2 L1384.5,939.5 L1385.7,936.7 L1386.9,934.0 L1388.0,931.2 L1389.3,928.5 L1390.5,925.8 L1391.7,923.1 L1393.0,920.4 L1394.3,917.8 L1395.6,915.1 L1396.9,912.5 L1398.3,909.9 L1399.6,907.2 L1401.0,904.6 L1402.4,902.1 L1403.9,899.5 L1405.3,896.9 L1406.8,894.4 L1408.3,891.9 L1409.8,889.3 L1411.4,886.9 L1412.9,884.4 L1414.5,881.9 L1416.1,879.5 L1417.8,877.0 L1419.4,874.6 L1421.1,872.2 L1422.8,869.8 L1424.6,867.5 L1426.3,865.1 L1428.1,862.8 L1429.9,860.5 L1431.8,858.2 L1433.6,855.9 L1435.5,853.7 L1437.4,851.4 L1439.4,849.2 L1441.3,847.0 L1443.3,844.8 L1445.3,842.7 L1447.3,840.5 L1449.4,838.4 L1451.4,836.3 L1453.5,834.2 L1455.7,832.2 L1457.8,830.1 L1460.0,828.1 L1462.1,826.1 L1464.3,824.2 L1466.6,822.2 L1468.8,820.3 L1471.1,818.4 L1473.4,816.5 L1475.7,814.7 L1478.0,812.9 L1480.4,811.1 L1482.7,809.3 L1485.1,807.5 L1487.5,805.8 L1489.9,804.1 L1492.4,802.4 L1494.9,800.8 L1497.3,799.2 L1499.8,797.6 L1502.4,796.0 L1504.9,794.4 L1507.4,792.9 L1510.0,791.4 L1512.6,789.9 L1515.2,788.5 L1517.8,787.1 L1520.5,785.7 L1523.1,784.3 L1525.8,782.9 L1528.5,781.6 L1531.1,780.3 L1533.9,779.0 L1536.6,777.7 L1539.3,776.4 L1542.0,775.2 L1544.8,774.0 L1547.6,772.8 L1550.3,771.6 L1553.1,770.4 L1555.9,769.3 L1558.7,768.2 L1561.6,767.1 L1564.4,766.0 L1567.2,764.9 L1570.1,763.9 L1572.9,762.9 L1575.8,761.8 L1578.7,760.8 L1581.5,759.9 L1584.4,758.9 L1587.3,757.9 L1590.2,757.0 L1593.1,756.1 L1596.0,755.2 L1599.0,754.3 L1601.9,753.4 L1604.8,752.5 L1607.7,751.7 L1610.6,750.8 L1613.6,750.0 L1616.5,749.2 L1619.5,748.4 L1622.4,747.6 L1625.3,746.8 L1628.3,746.0 L1631.2,745.3 L1634.2,744.5 L1637.1,743.8 L1640.1,743.0 L1643.0,742.3 L1646.0,741.6 L1648.9,740.9 L1651.9,740.2 L1654.8,739.5 L1657.8,738.8 L1660.7,738.2 L1663.7,737.5 L1666.7,736.9 L1669.6,736.2 L1672.6,735.6 L1675.5,735.0 L1678.5,734.4 L1681.5,733.8 L1684.4,733.2 L1687.4,732.6 L1690.3,732.1 L1693.3,731.5 L1696.3,730.9 L1699.2,730.4 L1702.2,729.9 L1705.2,729.3 L1708.1,728.8 L1711.1,728.3 L1714.1,727.8 L1717.1,727.3 L1720.0,726.8 L1723.0,726.3 L1726.0,725.9 L1729.0,725.4 L1731.9,724.9 L1734.9,724.5 L1737.9,724.1 L1740.9,723.6 L1743.8,723.2 L1746.8,722.8 L1749.8,722.4 L1752.8,722.0 L1755.8,721.6 L1758.7,721.2 L1761.7,720.8 L1764.7,720.4 L1767.7,720.1 L1770.7,719.7 L1773.7,719.3 L1776.6,719.0 L1779.6,718.7 L1782.6,718.3 L1785.6,718.0 L1788.6,717.7 L1791.6,717.3 L1794.6,717.0 L1797.6,716.7 L1800.5,716.4 L1803.5,716.1 L1806.5,715.9 L1809.5,715.6 L1812.5,715.3 L1815.5,715.0 L1818.5,714.8 L1821.5,714.5 L1824.5,714.3 L1827.5,714.0 L1830.5,713.8 L1833.5,713.5 L1836.5,713.3 L1839.5,713.1 L1842.5,712.9 L1845.5,712.6 L1848.5,712.4 L1851.5,712.2 L1854.5,712.0 L1857.5,711.8 L1860.5,711.6 L1863.5,711.4 L1866.5,711.3 L1869.5,711.1 L1872.5,710.9 L1875.5,710.7 L1878.5,710.6 L1881.5,710.4 L1884.5,710.2 L1887.5,710.1 L1890.5,709.9 L1893.5,709.8 L1896.5,709.6 L1899.5,709.5 L1902.5,709.3 L1905.5,709.2 L1908.5,709.1 L1911.5,709.0 L1914.5,708.8 L1917.5,708.7 L1920.5,708.6 L1923.6,708.5 L1926.6,708.3 L1929.6,708.2 L1932.6,708.1 L1935.6,708.0 L1938.6,707.9 L1941.6,707.8 L1944.6,707.7 L1947.6,707.6 L1950.6,707.5 L1953.6,707.4 L1956.6,707.3 L1959.6,707.3 L1962.7,707.2 L1965.7,707.1 L1968.7,707.0 L1971.7,706.9 L1974.7,706.8 L1977.7,706.8 L1980.7,706.7 L1983.7,706.6 L1986.7,706.5 L1989.7,706.4 L1992.8,706.4 L1995.8,706.3 L1998.8,706.2 L2001.8,706.2 L2004.8,706.1 L2007.8,706.0 L2010.8,706.0 L2013.8,705.9 L2016.8,705.8 L2019.9,705.8 L2022.9,705.7 L2025.9,705.6 L2028.9,705.6 L2031.9,705.5 L2034.9,705.4 L2037.9,705.4 L2040.9,705.3 L2043.9,705.2 L2046.9,705.2 L2050.0,705.1 L2053.0,705.0 L2056.0,705.0 L2059.0,704.9 L2062.0,704.8 L2065.0,704.8 L2068.0,704.7 L2071.0,704.6 L2074.0,704.5 L2077.0,704.5 L2080.0,704.4 L2083.1,704.3 L2086.1,704.2 L2089.1,704.2 L2092.1,704.1 L2095.1,704.0 L2098.1,703.9 L2101.1,703.8 L2104.1,703.7 L2107.1,703.7 L2110.1,703.6 L2113.1,703.5 L2116.1,703.4 L2119.1,703.3 L2122.1,703.2 L2125.1,703.1 L2128.2,703.0 L2131.2,702.9 L2134.2,702.8 L2137.2,702.6 L2140.2,702.5 L2143.2,702.4 L2146.2,702.3 L2149.2,702.2 L2152.2,702.1 L2155.2,701.9 L2158.2,701.8 L2161.2,701.7 L2164.2,701.5 L2167.2,701.4 L2170.2,701.2 L2173.2,701.1 L2176.2,700.9 L2179.2,700.8 L2182.2,700.6 L2185.2,700.5 L2188.2,700.3 L2191.2,700.1 L2194.2,699.9 L2197.2,699.8 L2200.2,699.6 L2203.1,699.4 L2206.1,699.2 L2209.1,699.0 L2212.1,698.8 L2215.1,698.6 L2218.1,698.4 L2221.1,698.2 L2224.1,697.9 L2227.1,697.7 L2230.1,697.5 L2233.1,697.3 L2236.1,697.0 L2239.0,696.8 L2242.0,696.5 L2245.0,696.3 L2248.0,696.0" fill="none" stroke="#EDB120" stroke-width="6.8" stroke-linejoin="round" stroke-linecap="round" />
<path d="M356.2,1460.0 L356.4,1457.0 L356.7,1454.0 L356.9,1451.0 L357.1,1448.0 L357.3,1445.0 L357.6,1442.0 L357.8,1439.0 L358.0,1436.0 L358.2,1433.0 L358.4,1430.0 L358.7,1427.0 L358.9,1424.0 L359.1,1421.0 L359.3,1418.0 L359.5,1415.1 L359.7,1412.1 L359.9,1409.1 L360.1,1406.1 L360.3,1403.1 L360.5,1400.1 L360.7,1397.1 L360.9,1394.1 L361.1,1391.1 L361.3,1388.1 L361.5,1385.1 L361.7,1382.1 L361.9,1379.1 L362.1,1376.1 L362.3,1373.1 L362.5,1370.1 L362.7,1367.1 L362.8,1364.1 L363.0,1361.1 L363.2,1358.1 L363.4,1355.1 L363.6,1352.1 L363.8,1349.1 L364.0,1346.1 L364.2,1343.1 L364.4,1340.1 L364.6,1337.1 L364.8,1334.1 L365.0,1331.1 L365.1,1328.1 L365.3,1325.1 L365.5,1322.1 L365.7,1319.1 L365.9,1316.1 L366.1,1313.1 L366.3,1310.1 L366.5,1307.1 L366.7,1304.1 L366.9,1301.1 L367.1,1298.1 L367.3,1295.1 L367.5,1292.1 L367.7,1289.1 L367.9,1286.1 L368.1,1283.1 L368.4,1280.1 L368.6,1277.1 L368.8,1274.1 L369.0,1271.1 L369.2,1268.1 L369.4,1265.1 L369.7,1262.1 L369.9,1259.1 L370.1,1256.1 L370.3,1253.1 L370.6,1250.1 L370.8,1247.1 L371.0,1244.1 L371.3,1241.1 L371.5,1238.2 L371.7,1235.2 L372.0,1232.2 L372.2,1229.2 L372.5,1226.2 L372.7,1223.2 L373.0,1220.2 L373.2,1217.2 L373.5,1214.2 L373.8,1211.2 L374.0,1208.2 L374.3,1205.3 L374.6,1202.3 L374.9,1199.3 L375.1,1196.3 L375.4,1193.3 L375.7,1190.3 L376.0,1187.3 L376.3,1184.3 L376.6,1181.4 L376.9,1178.4 L377.2,1175.4 L377.5,1172.4 L377.8,1169.4 L378.1,1166.4 L378.5,1163.5 L378.8,1160.5 L379.1,1157.5 L379.4,1154.5 L379.8,1151.5 L380.1,1148.6 L380.5,1145.6 L380.8,1142.6 L381.2,1139.6 L381.6,1136.7 L381.9,1133.7 L382.3,1130.7 L382.7,1127.7 L383.1,1124.8 L383.4,1121.8 L383.8,1118.8 L384.2,1115.8 L384.6,1112.9 L385.0,1109.9 L385.5,1106.9 L385.9,1104.0 L386.3,1101.0 L386.7,1098.0 L387.2,1095.1 L387.6,1092.1 L388.1,1089.1 L388.5,1086.2 L389.0,1083.2 L389.4,1080.2 L389.9,1077.3 L390.4,1074.3 L390.9,1071.4 L391.4,1068.4 L391.9,1065.4 L392.4,1062.5 L392.9,1059.5 L393.4,1056.6 L393.9,1053.6 L394.4,1050.7 L395.0,1047.7 L395.5,1044.8 L396.1,1041.8 L396.6,1038.9 L397.2,1035.9 L397.8,1033.0 L398.3,1030.0 L398.9,1027.1 L399.5,1024.1 L400.1,1021.2 L400.7,1018.2 L401.4,1015.3 L402.0,1012.4 L402.6,1009.4 L403.2,1006.5 L403.9,1003.5 L404.5,1000.6 L405.2,997.7 L405.9,994.7 L406.6,991.8 L407.2,988.9 L407.9,985.9 L408.6,983.0 L409.3,980.1 L410.1,977.1 L410.8,974.2 L411.5,971.3 L412.3,968.4 L413.0,965.4 L413.8,962.5 L414.6,959.6 L415.3,956.7 L416.1,953.8 L416.9,950.8 L417.7,947.9 L418.6,945.0 L419.4,942.1 L420.2,939.2 L421.1,936.3 L421.9,933.4 L422.8,930.5 L423.7,927.6 L424.6,924.7 L425.5,921.8 L426.4,918.9 L427.3,916.0 L428.2,913.1 L429.2,910.3 L430.2,907.4 L431.1,904.5 L432.1,901.7 L433.1,898.8 L434.2,896.0 L435.2,893.1 L436.2,890.3 L437.3,887.5 L438.4,884.6 L439.5,881.8 L440.6,879.0 L441.7,876.2 L442.9,873.4 L444.1,870.7 L445.2,867.9 L446.4,865.1 L447.7,862.4 L448.9,859.6 L450.2,856.9 L451.4,854.2 L452.7,851.5 L454.1,848.8 L455.4,846.1 L456.7,843.4 L458.1,840.7 L459.5,838.1 L460.9,835.4 L462.4,832.8 L463.8,830.2 L465.3,827.6 L466.8,825.0 L468.4,822.4 L469.9,819.9 L471.5,817.3 L473.1,814.8 L474.7,812.2 L476.4,809.7 L478.1,807.3 L479.8,804.8 L481.5,802.3 L483.2,799.9 L485.0,797.5 L486.8,795.0 L488.6,792.7 L490.5,790.3 L492.4,787.9 L494.3,785.6 L496.2,783.3 L498.1,781.0 L500.1,778.7 L502.1,776.4 L504.1,774.1 L506.1,771.9 L508.1,769.7 L510.2,767.5 L512.3,765.3 L514.4,763.2 L516.5,761.0 L518.7,758.9 L520.9,756.8 L523.0,754.8 L525.2,752.7 L527.5,750.7 L529.7,748.7 L532.0,746.7 L534.2,744.7 L536.5,742.8 L538.8,740.8 L541.2,738.9 L543.5,737.0 L545.8,735.2 L548.2,733.3 L550.6,731.5 L553.0,729.7 L555.4,728.0 L557.8,726.2 L560.2,724.5 L562.7,722.8 L565.1,721.1 L567.6,719.5 L570.1,717.9 L572.6,716.3 L575.1,714.7 L577.6,713.1 L580.1,711.6 L582.7,710.1 L585.2,708.6 L587.8,707.2 L590.4,705.7 L592.9,704.3 L595.5,702.9 L598.1,701.5 L600.7,700.2 L603.4,698.9 L606.0,697.5 L608.6,696.3 L611.3,695.0 L614.0,693.7 L616.6,692.5 L619.3,691.3 L622.0,690.1 L624.7,688.9 L627.4,687.8 L630.1,686.7 L632.8,685.5 L635.6,684.4 L638.3,683.4 L641.1,682.3 L643.8,681.3 L646.6,680.2 L649.4,679.2 L652.1,678.2 L654.9,677.3 L657.7,676.3 L660.5,675.4 L663.3,674.4 L666.2,673.5 L669.0,672.6 L671.8,671.7 L674.7,670.9 L677.5,670.0 L680.4,669.2 L683.2,668.4 L686.1,667.6 L689.0,666.8 L691.8,666.0 L694.7,665.2 L697.6,664.5 L700.5,663.7 L703.4,663.0 L706.3,662.3 L709.2,661.6 L712.1,660.9 L715.1,660.2 L718.0,659.5 L720.9,658.9 L723.8,658.2 L726.8,657.6 L729.7,657.0 L732.7,656.3 L735.6,655.7 L738.6,655.1 L741.5,654.6 L744.5,654.0 L747.5,653.4 L750.4,652.9 L753.4,652.3 L756.4,651.8 L759.4,651.2 L762.3,650.7 L765.3,650.2 L768.3,649.7 L771.3,649.2 L774.3,648.7 L777.3,648.2 L780.3,647.7 L783.3,647.2 L786.3,646.8 L789.3,646.3 L792.3,645.8 L795.3,645.4 L798.3,644.9 L801.3,644.5 L804.3,644.1 L807.3,643.6 L810.3,643.2 L813.4,642.8 L816.4,642.4 L819.4,641.9 L822.4,641.5 L825.4,641.1 L828.4,640.7 L831.4,640.3 L834.4,639.9 L837.5,639.5 L840.5,639.1 L843.5,638.7 L846.5,638.3 L849.5,637.9 L852.5,637.5 L855.5,637.1 L858.5,636.8 L861.5,636.4 L864.6,636.0 L867.6,635.6 L870.6,635.2 L873.6,634.9 L876.6,634.5 L879.6,634.1 L882.6,633.8 L885.6,633.4 L888.6,633.0 L891.6,632.7 L894.6,632.3 L897.7,632.0 L900.7,631.6 L903.7,631.2 L906.7,630.9 L909.7,630.6 L912.7,630.2 L915.7,629.9 L918.7,629.5 L921.7,629.2 L924.7,628.8 L927.7,628.5 L930.7,628.2 L933.7,627.9 L936.8,627.5 L939.8,627.2 L942.8,626.9 L945.8,626.6 L948.8,626.2 L951.8,625.9 L954.8,625.6 L957.8,625.3 L960.8,625.0 L963.8,624.7 L966.8,624.4 L969.8,624.1 L972.8,623.7 L975.8,623.4 L978.8,623.1 L981.8,622.9 L984.8,622.6 L987.8,622.3 L990.8,622.0 L993.8,621.7 L996.8,621.4 L999.8,621.1 L1002.8,620.8 L1005.8,620.5 L1008.8,620.3 L1011.8,620.0 L1014.8,619.7 L1017.9,619.4 L1020.9,619.2 L1023.9,618.9 L1026.9,618.6 L1029.9,618.4 L1032.9,618.1 L1035.9,617.8 L1038.9,617.6 L1041.9,617.3 L1044.9,617.1 L1047.9,616.8 L1050.9,616.5 L1053.9,616.3 L1056.9,616.0 L1059.9,615.8 L1062.9,615.5 L1065.9,615.3 L1068.9,615.1 L1071.9,614.8 L1074.9,614.6 L1077.9,614.3 L1080.9,614.1 L1083.9,613.9 L1086.9,613.6 L1089.9,613.4 L1092.8,613.2 L1095.8,613.0 L1098.8,612.7 L1101.8,612.5 L1104.8,612.3 L1107.8,612.1 L1110.8,611.8 L1113.8,611.6 L1116.8,611.4 L1119.8,611.2 L1122.8,611.0 L1125.8,610.8 L1128.8,610.6 L1131.8,610.4 L1134.8,610.1 L1137.8,609.9 L1140.8,609.7 L1143.8,609.5 L1146.8,609.3 L1149.8,609.1 L1152.8,608.9 L1155.8,608.8 L1158.8,608.6 L1161.8,608.4 L1164.8,608.2 L1167.8,608.0 L1170.8,607.8 L1173.8,607.6 L1176.8,607.4 L1179.8,607.3 L1182.7,607.1 L1185.7,606.9 L1188.7,606.7 L1191.7,606.5 L1194.7,606.4 L1197.7,606.2 L1200.7,606.0 L1203.7,605.8 L1206.7,605.7 L1209.7,605.5 L1212.7,605.3 L1215.7,605.2 L1218.7,605.0 L1221.7,604.9 L1224.7,604.7 L1227.7,604.5 L1230.7,604.4 L1233.7,604.2 L1236.6,604.1 L1239.6,603.9 L1242.6,603.8 L1245.6,603.6 L1248.6,603.5 L1251.6,603.3 L1254.6,603.2 L1257.6,603.0 L1260.6,602.9 L1263.6,602.7 L1266.6,602.6 L1269.6,602.4 L1272.6,602.3 L1275.6,602.2 L1278.5,602.0 L1281.5,601.9 L1284.5,601.8 L1287.5,601.6 L1290.5,601.5 L1293.5,601.4 L1296.5,601.2 L1299.5,601.1 L1302.5,601.0 L1305.5,600.9 L1308.5,600.7 L1311.5,600.6 L1314.5,600.5 L1317.4,600.4 L1320.4,600.2 L1323.4,600.1 L1326.4,600.0 L1329.4,599.9 L1332.4,599.8 L1335.4,599.7 L1338.4,599.5 L1341.4,599.4 L1344.4,599.3 L1347.4,599.2 L1350.4,599.1 L1353.4,599.0 L1356.3,598.9 L1359.3,598.8 L1362.3,598.7 L1365.3,598.6 L1368.3,598.5 L1371.3,598.4 L1374.3,598.3 L1377.3,598.2 L1380.3,598.1 L1383.3,598.0 L1386.3,597.9 L1389.2,597.8 L1392.2,597.7 L1395.2,597.6 L1398.2,597.5 L1401.2,597.4 L1404.2,597.3 L1407.2,597.2 L1410.2,597.2 L1413.2,597.1 L1416.2,597.0 L1419.2,596.9 L1422.2,596.8 L1425.1,596.7 L1428.1,596.6 L1431.1,596.6 L1434.1,596.5 L1437.1,596.4 L1440.1,596.3 L1443.1,596.2 L1446.1,596.2 L1449.1,596.1 L1452.1,596.0 L1455.1,595.9 L1458.0,595.9 L1461.0,595.8 L1464.0,595.7 L1467.0,595.6 L1470.0,595.6 L1473.0,595.5 L1476.0,595.4 L1479.0,595.4 L1482.0,595.3 L1485.0,595.2 L1488.0,595.2 L1490.9,595.1 L1493.9,595.0 L1496.9,595.0 L1499.9,594.9 L1502.9,594.8 L1505.9,594.8 L1508.9,594.7 L1511.9,594.7 L1514.9,594.6 L1517.9,594.5 L1520.9,594.5 L1523.9,594.4 L1526.8,594.4 L1529.8,594.3 L1532.8,594.2 L1535.8,594.2 L1538.8,594.1 L1541.8,594.1 L1544.8,594.0 L1547.8,594.0 L1550.8,593.9 L1553.8,593.9 L1556.8,593.8 L1559.8,593.8 L1562.7,593.7 L1565.7,593.7 L1568.7,593.6 L1571.7,593.6 L1574.7,593.5 L1577.7,593.5 L1580.7,593.4 L1583.7,593.4 L1586.7,593.3 L1589.7,593.3 L1592.7,593.2 L1595.7,593.2 L1598.7,593.2 L1601.6,593.1 L1604.6,593.1 L1607.6,593.0 L1610.6,593.0 L1613.6,592.9 L1616.6,592.9 L1619.6,592.9 L1622.6,592.8 L1625.6,592.8 L1628.6,592.7 L1631.6,592.7 L1634.6,592.7 L1637.6,592.6 L1640.6,592.6 L1643.5,592.6 L1646.5,592.5 L1649.5,592.5 L1652.5,592.4 L1655.5,592.4 L1658.5,592.4 L1661.5,592.3 L1664.5,592.3 L1667.5,592.3 L1670.5,592.2 L1673.5,592.2 L1676.5,592.2 L1679.5,592.1 L1682.5,592.1 L1685.5,592.1 L1688.5,592.0 L1691.4,592.0 L1694.4,592.0 L1697.4,591.9 L1700.4,591.9 L1703.4,591.9 L1706.4,591.8 L1709.4,591.8 L1712.4,591.8 L1715.4,591.7 L1718.4,591.7 L1721.4,591.7 L1724.4,591.7 L1727.4,591.6 L1730.4,591.6 L1733.4,591.6 L1736.4,591.5 L1739.4,591.5 L1742.4,591.5 L1745.4,591.4 L1748.4,591.4 L1751.4,591.4 L1754.4,591.4 L1757.4,591.3 L1760.3,591.3 L1763.3,591.3 L1766.3,591.2 L1769.3,591.2 L1772.3,591.2 L1775.3,591.2 L1778.3,591.1 L1781.3,591.1 L1784.3,591.1 L1787.3,591.0 L1790.3,591.0 L1793.3,591.0 L1796.3,591.0 L1799.3,590.9 L1802.3,590.9 L1805.3,590.9 L1808.3,590.8 L1811.3,590.8 L1814.3,590.8 L1817.3,590.8 L1820.3,590.7 L1823.3,590.7 L1826.3,590.7 L1829.3,590.6 L1832.3,590.6 L1835.3,590.6 L1838.3,590.6 L1841.3,590.5 L1844.3,590.5 L1847.3,590.5 L1850.3,590.4 L1853.3,590.4 L1856.3,590.4 L1859.3,590.4 L1862.3,590.3 L1865.3,590.3 L1868.3,590.3 L1871.3,590.2 L1874.3,590.2 L1877.3,590.2 L1880.3,590.1 L1883.3,590.1 L1886.3,590.1 L1889.3,590.0 L1892.3,590.0 L1895.3,590.0 L1898.3,589.9 L1901.3,589.9 L1904.3,589.9 L1907.3,589.8 L1910.3,589.8 L1913.4,589.8 L1916.4,589.7 L1919.4,589.7 L1922.4,589.7 L1925.4,589.6 L1928.4,589.6 L1931.4,589.6 L1934.4,589.5 L1937.4,589.5 L1940.4,589.5 L1943.4,589.4 L1946.4,589.4 L1949.4,589.3 L1952.4,589.3 L1955.4,589.3 L1958.4,589.2 L1961.4,589.2 L1964.4,589.1 L1967.4,589.1 L1970.5,589.1 L1973.5,589.0 L1976.5,589.0 L1979.5,588.9 L1982.5,588.9 L1985.5,588.9 L1988.5,588.8 L1991.5,588.8 L1994.5,588.7 L1997.5,588.7 L2000.5,588.6 L2003.5,588.6 L2006.6,588.5 L2009.6,588.5 L2012.6,588.4 L2015.6,588.4 L2018.6,588.3 L2021.6,588.3 L2024.6,588.3 L2027.6,588.2 L2030.6,588.1 L2033.6,588.1 L2036.7,588.0 L2039.7,588.0 L2042.7,587.9 L2045.7,587.9 L2048.7,587.8 L2051.7,587.8 L2054.7,587.7 L2057.7,587.7 L2060.8,587.6 L2063.8,587.5 L2066.8,587.5 L2069.8,587.4 L2072.8,587.4 L2075.8,587.3 L2078.8,587.2 L2081.8,587.2 L2084.9,587.1 L2087.9,587.1 L2090.9,587.0 L2093.9,586.9 L2096.9,586.9 L2099.9,586.8 L2103.0,586.7 L2106.0,586.7 L2109.0,586.6 L2112.0,586.5 L2115.0,586.5 L2118.0,586.4 L2121.1,586.3 L2124.1,586.2 L2127.1,586.2 L2130.1,586.1 L2133.1,586.0 L2136.1,585.9 L2139.2,585.9 L2142.2,585.8 L2145.2,585.7 L2148.2,585.6 L2151.2,585.6 L2154.3,585.5 L2157.3,585.4 L2160.3,585.3 L2163.3,585.2 L2166.3,585.1 L2169.4,585.1 L2172.4,585.0 L2175.4,584.9 L2178.4,584.8 L2181.4,584.7 L2184.5,584.6 L2187.5,584.5 L2190.5,584.4 L2193.5,584.3 L2196.6,584.2 L2199.6,584.2 L2202.6,584.1 L2205.6,584.0 L2208.7,583.9 L2211.7,583.8 L2214.7,583.7 L2217.7,583.6 L2220.8,583.5 L2223.8,583.4 L2226.8,583.3 L2229.8,583.2 L2232.9,583.0 L2235.9,582.9 L2238.9,582.8 L2241.9,582.7 L2245.0,582.6 L2248.0,582.5" fill="none" stroke="#77AC30" stroke-width="5.0" stroke-linejoin="round" stroke-dasharray="9.5 4" />
<path d="M357.0,1888.0 L1276.0,1888.0 L1310.0,1888.0 L2243.0,1888.0" fill="none" stroke="#D95319" stroke-width="5" stroke-linejoin="round" stroke-dasharray="8 4" />
<path d="M357.0,1881.0 L1276.5,1881.0 L1289.4,1593.5 L1304.0,1881.0 L2243.0,1881.0" fill="none" stroke="#0072BD" stroke-width="6.5" stroke-linejoin="round" stroke-linecap="round" />
<path d="M357.0,1887.0 L1277.0,1887.0 L1289.4,1593.5 L2243.0,1593.5" fill="none" stroke="#7E2F8E" stroke-width="6.5" stroke-linejoin="round" stroke-linecap="round" />
<path d="M357.0,1593.5 L1289.0,1593.5 L1304.0,1887.4 L2243.0,1887.4" fill="none" stroke="#EDB120" stroke-width="6.5" stroke-linejoin="round" stroke-linecap="round" />
<path d="M357.0,1589.5 L2243.0,1589.5" fill="none" stroke="#77AC30" stroke-width="5" stroke-linejoin="round" stroke-dasharray="5 2.5" />
<path d="M356.0,2129.0 L358.5,2121.0 L361.5,2117.0 L363.5,2124.0 L365.5,2131.0 L368.0,2142.0 L371.5,2163.6 L377.0,2175.0 L383.0,2184.0 L391.3,2200.0 L406.2,2215.0 L420.0,2222.0 L440.0,2228.2 L465.7,2231.0 L497.0,2233.4 L503.5,2239.7 L508.0,2232.0 L513.0,2235.0 L535.0,2239.7 L541.0,2244.4 L553.7,2239.7 L572.6,2238.0 L623.0,2244.4 L717.0,2249.0 L940.0,2247.6 L1034.0,2239.7 L1128.6,2235.0 L1254.0,2232.0 L1274.7,2230.3 L1290.4,2027.6 L1304.6,2161.0 L1304.6,2161.0 C1305.4,2163.7 1304.6,2172.7 1309.3,2176.9 C1314.0,2181.1 1321.2,2183.5 1333.0,2186.3 C1344.8,2189.2 1361.7,2192.1 1380.0,2194.0 C1398.3,2195.9 1416.3,2196.8 1443.0,2198.0 C1469.7,2199.2 1497.7,2200.2 1540.0,2201.4 C1582.3,2202.6 1644.7,2203.6 1697.0,2205.0 C1749.3,2206.4 1812.1,2208.7 1854.0,2210.0 C1895.9,2211.3 1917.1,2212.5 1948.6,2213.0 C1980.1,2213.5 2011.1,2213.5 2043.0,2213.0 C2074.9,2212.5 2107.2,2211.2 2140.0,2210.0 C2172.8,2208.8 2223.3,2206.4 2240.0,2205.7" fill="none" stroke="#0072BD" stroke-width="6.5" stroke-linejoin="round" stroke-linecap="round" />
<path d="M355.7,2088.9 C357.8,2089.7 365.1,2093.3 368.3,2093.6 C371.5,2093.8 372.0,2089.1 374.6,2090.4 C377.2,2091.7 380.9,2097.0 384.0,2101.4 C387.1,2105.8 389.2,2112.3 393.4,2117.0 C397.6,2121.7 403.8,2124.4 409.0,2129.7 C414.2,2135.0 417.5,2140.2 424.9,2148.6 C432.3,2157.0 443.8,2172.2 453.2,2180.0 C462.6,2187.8 471.4,2190.5 481.4,2195.7 C491.4,2200.9 499.9,2206.2 513.0,2211.4 C526.1,2216.6 541.7,2222.3 560.0,2227.0 C578.3,2231.7 596.8,2236.3 623.0,2239.7 C649.2,2243.1 664.2,2246.0 717.0,2247.6 C769.8,2249.2 886.1,2249.3 940.0,2249.0 C993.9,2248.7 1023.8,2246.5 1040.6,2246.0 L1043.7,2241.3 L1047.0,2246.0 L1056.3,2246.6 L1160.0,2250.7 L1276.3,2253.9 L1289.0,2018.0 L1304.6,2018.0 L1443.0,2022.9 L1452.3,2026.6 L1540.0,2030.7 L1555.7,2026.0 L1603.0,2027.6 L1665.7,2030.7 L1678.3,2041.7 L1854.0,2044.9 L2011.4,2048.0 L2140.0,2051.1 L2240.0,2052.5" fill="none" stroke="#7E2F8E" stroke-width="6.5" stroke-linejoin="round" stroke-linecap="round" />
<path d="M355.7,1991.4 C357.2,1993.5 361.3,1999.6 365.0,2004.0 C368.7,2008.4 371.4,2013.5 377.7,2018.0 C384.0,2022.5 390.8,2027.3 402.9,2030.7 C414.9,2034.1 429.1,2036.7 450.0,2038.6 C470.9,2040.5 494.6,2041.2 528.6,2042.3 C562.6,2043.3 575.7,2044.5 654.3,2044.9 C732.9,2045.4 896.9,2045.0 1000.0,2045.0 C1103.1,2045.0 1227.5,2044.9 1273.0,2044.9 L1284.0,2040.0 L1289.0,2025.0 L1303.0,2200.5 L1303.0,2200.5 L1309.3,2199.0 L1348.6,2206.8 L1364.0,2210.0 L1373.7,2203.6 L1443.0,2206.8 L1540.0,2208.3 L1697.0,2211.4 L1854.0,2213.0 L2011.4,2208.3 L2140.0,2202.6 L2240.0,2197.0" fill="none" stroke="#EDB120" stroke-width="6.5" stroke-linejoin="round" stroke-linecap="round" />
<line x1="375.8" y1="2076.0" x2="375.8" y2="2268.0" stroke="#D95319" stroke-width="7" />
<path d="M358.5,1976.0 L379.5,1979.2 L358.5,1982.4 L379.5,1985.6 L358.5,1988.8 L379.5,1992.0 L358.5,1995.2 L379.5,1998.4 L358.5,2001.6 L379.5,2004.8" fill="none" stroke="#D95319" stroke-width="4.5" stroke-linejoin="round" stroke-linecap="round" />
<path d="M359.5,2004.0 L359.5,2158.0" fill="none" stroke="#D95319" stroke-width="7" stroke-linejoin="round" stroke-dasharray="6 4" />
<path d="M367.5,2004.0 L367.5,2072.0" fill="none" stroke="#D95319" stroke-width="7" stroke-linejoin="round" stroke-dasharray="6 4" />
<path d="M377.5,2004.0 L377.5,2073.0" fill="none" stroke="#D95319" stroke-width="6" stroke-linejoin="round" stroke-dasharray="5 5" />
<path d="M380.0,2073.0 L380.0,2175.0" fill="none" stroke="#D95319" stroke-width="6" stroke-linejoin="round" stroke-dasharray="5 4" />
<path d="M377.5,2073.0 L381.0,2180.0 L393.4,2192.6 L430.0,2196.0 L465.7,2198.9 L481.4,2208.3 L513.0,2219.3 L700.0,2224.0 L940.0,2226.0 L1274.7,2227.0 L1540.0,2224.0 L1854.0,2223.4 L2043.0,2225.6 L2105.7,2230.3 L2150.0,2235.4 L2240.0,2237.4" fill="none" stroke="#D95319" stroke-width="6" stroke-linejoin="round" stroke-dasharray="7 4" />
<path d="M354.0,2000.9 L371.4,2018.0 L387.1,2024.4 L418.6,2024.4 L434.3,2026.6 L940.0,2027.6 L1540.0,2033.5 L2140.0,2038.6 L2240.0,2040.0" fill="none" stroke="#77AC30" stroke-width="6" stroke-linejoin="round" stroke-dasharray="7 4" />
<rect x="2239.5" y="1974" width="17.5" height="313.8" fill="#77AC30"/>
<line x1="1287.2" y1="473" x2="1287.6" y2="600" stroke="#ffffff" stroke-width="3.2"/>
<line x1="1287.6" y1="600" x2="1288.2" y2="720" stroke="#ffffff" stroke-width="2.6" stroke-opacity="0.7"/>
<line x1="1288.3" y1="1712" x2="1288.0" y2="1830" stroke="#ffffff" stroke-width="2.2"/>
<rect x="1272.5" y="85.5" width="33.7" height="2202.3" fill="#a3b2cb" fill-opacity="0.38"/>
<rect x="591.0" y="14.1" width="636.1" height="564.1" fill="#fff" stroke="#e2e6ec" stroke-width="15.7"/>
<line x1="1226" y1="13.7" x2="1299.2" y2="89.2" stroke="#e2e6ec" stroke-width="15.8" stroke-opacity="0.92"/>
<line x1="1229.5" y1="580" x2="1279" y2="690" stroke="#e2e6ec" stroke-width="15.6" stroke-opacity="0.8"/>
<line x1="732.5" y1="27.3" x2="732.5" y2="459.8" stroke="#555" stroke-width="1.6" />
<line x1="732.5" y1="459.8" x2="1166.0" y2="459.8" stroke="#555" stroke-width="1.6" />
<line x1="727.5" y1="54.3" x2="732.5" y2="54.3" stroke="#555" stroke-width="1.4" />
<line x1="727.5" y1="184.4" x2="732.5" y2="184.4" stroke="#555" stroke-width="1.4" />
<line x1="727.5" y1="314.5" x2="732.5" y2="314.5" stroke="#555" stroke-width="1.4" />
<line x1="727.5" y1="444.6" x2="732.5" y2="444.6" stroke="#555" stroke-width="1.4" />
<line x1="738.5" y1="459.8" x2="738.5" y2="465.0" stroke="#555" stroke-width="1.4" />
<line x1="948.5" y1="459.8" x2="948.5" y2="465.0" stroke="#555" stroke-width="1.4" />
<line x1="1161.5" y1="459.8" x2="1161.5" y2="465.0" stroke="#555" stroke-width="1.4" />
<path d="M735.0,198.0 C735.7,198.0 737.9,203.3 739.0,198.0 C740.1,192.7 740.6,180.7 741.8,166.0 C742.9,151.3 744.5,127.7 745.9,110.0 C747.3,92.3 748.5,71.1 750.0,60.0 C751.5,48.9 753.1,44.0 754.7,43.5 C756.3,43.0 757.8,51.2 759.5,57.0 C761.2,62.8 763.0,70.1 765.0,78.0 C767.0,85.9 769.1,97.6 771.8,104.5 C774.5,111.4 778.1,115.2 781.3,119.5 C784.5,123.8 786.9,127.5 790.8,130.5 C794.6,133.5 799.2,135.6 804.4,137.5 C809.6,139.4 816.5,141.2 822.2,142.0 C827.9,142.8 832.8,142.4 838.5,142.0 C844.2,141.6 851.0,140.7 856.2,139.5 C861.4,138.3 865.3,136.6 869.8,134.7 C874.3,132.8 878.8,130.6 883.4,128.0 C888.0,125.4 892.5,122.0 897.1,119.0 C901.7,116.0 906.2,113.4 910.7,110.2 C915.2,107.0 919.8,103.6 924.3,100.0 C928.8,96.4 933.6,92.2 937.9,88.5 C942.2,84.8 948.2,79.8 950.2,78.0 L950.2,78.0 C950.5,83.3 951.3,96.7 952.0,110.0 C952.7,123.3 953.5,142.2 954.5,158.0 C955.5,173.8 956.9,189.7 958.2,205.0 C959.5,220.3 960.5,233.4 962.2,250.0 C963.9,266.6 966.1,288.6 968.5,304.4 C970.9,320.1 973.5,333.0 976.5,344.5 C979.5,356.0 982.5,365.1 986.2,373.4 C990.0,381.7 993.6,387.9 999.0,394.3 C1004.4,400.7 1011.1,407.1 1018.3,411.9 C1025.5,416.7 1032.9,420.0 1042.3,423.2 C1051.7,426.4 1061.0,429.1 1074.4,431.2 C1087.8,433.3 1107.2,434.9 1122.6,436.0 C1138.0,437.1 1159.3,437.3 1166.7,437.6" fill="none" stroke="#0072BD" stroke-width="8.5" stroke-linejoin="round" stroke-linecap="round" />
<path d="M735.0,201.0 C735.7,201.0 737.9,206.2 739.0,201.0 C740.1,195.8 740.6,184.3 741.8,170.0 C742.9,155.7 744.5,132.3 745.9,115.3 C747.3,98.2 748.5,79.0 750.0,67.7 C751.5,56.4 753.1,48.3 754.7,47.2 C756.3,46.1 757.8,55.2 759.5,60.9 C761.2,66.6 763.0,73.6 765.0,81.3 C767.0,89.0 769.1,100.4 771.8,107.2 C774.5,114.0 778.1,117.8 781.3,122.1 C784.5,126.4 786.9,130.0 790.8,133.0 C794.6,136.0 799.2,138.0 804.4,139.9 C809.6,141.8 816.5,143.8 822.2,144.6 C827.9,145.4 832.8,145.0 838.5,144.6 C844.2,144.2 851.0,143.2 856.2,141.9 C861.4,140.7 865.3,139.0 869.8,137.1 C874.3,135.2 878.8,132.9 883.4,130.3 C888.0,127.7 892.5,124.5 897.1,121.5 C901.7,118.5 906.2,115.8 910.7,112.6 C915.2,109.4 919.8,106.0 924.3,102.4 C928.8,98.8 933.6,94.5 937.9,90.8 C942.2,87.1 948.2,81.8 950.2,80.0 L950.6,79.0 L950.8,80.9 L951.0,82.8 L951.2,84.7 L951.5,86.6 L951.7,88.6 L951.9,90.6 L952.1,92.6 L952.4,94.5 L952.6,96.6 L952.9,98.6 L953.1,100.6 L953.4,102.6 L953.7,104.7 L954.0,106.7 L954.3,108.8 L954.6,110.8 L954.9,112.9 L955.2,115.0 L955.6,117.0 L955.9,119.1 L956.3,121.1 L956.7,123.2 L957.1,125.3 L957.5,127.3 L958.0,129.4 L958.4,131.4 L958.9,133.5 L959.4,135.5 L959.9,137.5 L960.5,139.5 L961.0,141.5 L961.6,143.5 L962.2,145.5 L962.8,147.5 L963.5,149.4 L964.2,151.3 L964.9,153.2 L965.6,155.1 L966.3,157.0 L967.1,158.9 L967.9,160.7 L968.8,162.5 L969.6,164.3 L970.5,166.1 L971.4,167.8 L972.4,169.5 L973.4,171.2 L974.4,172.9 L975.5,174.5 L976.6,176.1 L977.7,177.7 L978.8,179.2 L980.0,180.7 L981.3,182.2 L982.5,183.6 L983.9,185.0 L985.2,186.4 L986.6,187.7 L988.0,189.0 L989.5,190.2 L991.0,191.4 L992.5,192.6 L994.1,193.8 L995.7,194.9 L997.3,195.9 L999.0,196.9 L1000.7,197.9 L1002.4,198.9 L1004.1,199.8 L1005.9,200.7 L1007.7,201.6 L1009.5,202.4 L1011.4,203.2 L1013.3,204.0 L1015.1,204.7 L1017.1,205.4 L1019.0,206.1 L1020.9,206.8 L1022.9,207.4 L1024.9,208.0 L1026.8,208.6 L1028.8,209.1 L1030.9,209.7 L1032.9,210.2 L1034.9,210.6 L1036.9,211.1 L1039.0,211.5 L1041.0,211.9 L1043.1,212.3 L1045.1,212.7 L1047.2,213.0 L1049.2,213.4 L1051.3,213.7 L1053.3,214.0 L1055.4,214.2 L1057.4,214.5 L1059.5,214.7 L1061.5,215.0 L1063.6,215.2 L1065.6,215.4 L1067.7,215.5 L1069.7,215.7 L1071.8,215.8 L1073.8,216.0 L1075.9,216.1 L1077.9,216.2 L1080.0,216.3 L1082.0,216.4 L1084.0,216.5 L1086.1,216.5 L1088.1,216.6 L1090.1,216.6 L1092.2,216.7 L1094.2,216.7 L1096.3,216.7 L1098.3,216.8 L1100.3,216.8 L1102.3,216.8 L1104.4,216.8 L1106.4,216.8 L1108.4,216.8 L1110.5,216.8 L1112.5,216.8 L1114.5,216.7 L1116.5,216.7 L1118.6,216.7 L1120.6,216.7 L1122.6,216.7 L1124.6,216.7 L1126.6,216.6 L1128.6,216.6 L1130.7,216.6 L1132.7,216.6 L1134.7,216.6 L1136.7,216.6 L1138.7,216.6 L1140.7,216.6 L1142.7,216.6 L1144.7,216.6 L1146.7,216.6 L1148.7,216.7 L1150.7,216.7 L1152.7,216.7 L1154.7,216.8 L1156.7,216.8 L1158.7,216.9 L1160.7,217.0 L1162.7,217.1 L1164.7,217.2 L1166.7,217.3" fill="none" stroke="#7E2F8E" stroke-width="8.5" stroke-linejoin="round" stroke-linecap="round" />
<path d="M733.0,189.0 L948.5,189.4 L948.5,189.4 C949.0,192.0 950.3,192.9 951.5,205.0 C952.7,217.1 954.2,243.2 955.7,262.0 C957.2,280.8 958.6,300.7 960.5,318.0 C962.4,335.3 964.5,351.8 966.9,366.0 C969.3,380.2 971.7,393.3 974.9,403.0 C978.1,412.7 981.7,418.8 986.2,424.0 C990.8,429.2 994.2,431.6 1002.2,434.4 C1010.2,437.2 1019.6,439.3 1034.3,440.8 C1049.0,442.3 1068.4,442.7 1090.5,443.2 C1112.6,443.7 1154.0,443.9 1166.7,444.0" fill="none" stroke="#EDB120" stroke-width="8.5" stroke-linejoin="round" stroke-linecap="round" />
<path d="M733.0,200.5 L1166.7,200.5" fill="none" stroke="#D95319" stroke-width="7" stroke-linejoin="round" stroke-dasharray="21.5 21.2" />
<path d="M733.0,186.0 L1166.7,186.0" fill="none" stroke="#77AC30" stroke-width="7" stroke-linejoin="round" stroke-dasharray="21.5 21.2" />
<text x="648.6" y="68.7" font-size="38.1" font-style="normal" fill="#000" textLength="69.7" lengthAdjust="spacingAndGlyphs" >0.15</text>
<text x="659.0" y="197.0" font-size="38.1" font-style="normal" fill="#000" textLength="48.5" lengthAdjust="spacingAndGlyphs" >0.1</text>
<text x="656.5" y="324.4" font-size="38.1" font-style="normal" fill="#000" textLength="67.6" lengthAdjust="spacingAndGlyphs" >0.05</text>
<text x="704.4" y="450.3" font-size="38.1" font-style="normal" fill="#000" textLength="20.5" lengthAdjust="spacingAndGlyphs" >0</text>
<text x="705.8" y="499.2" font-size="38.1" font-style="normal" fill="#000" textLength="68.8" lengthAdjust="spacingAndGlyphs" >31.5</text>
<text x="917.0" y="499.2" font-size="38.1" font-style="normal" fill="#000" textLength="85.0" lengthAdjust="spacingAndGlyphs" >31.95</text>
<text x="1133.6" y="499.5" font-size="38.1" font-style="normal" fill="#000" textLength="66.4" lengthAdjust="spacingAndGlyphs" >32.4</text>
<text x="860.7" y="556.7" font-size="49.9" font-style="normal" fill="#000" textLength="167.9" lengthAdjust="spacingAndGlyphs" >Time [s]</text>
<text transform="rotate(-90)" x="-385.8" y="643.9" font-size="51.9" font-style="normal" fill="#000" textLength="232.3" lengthAdjust="spacingAndGlyphs" class="tc">Force [mN]</text>
<text x="172.9" y="179.6" font-size="80.0" font-style="normal" fill="#000" textLength="142.5" lengthAdjust="spacingAndGlyphs"  class="ta">0.15</text>
<text x="193.4" y="625.4" font-size="80.0" font-style="normal" fill="#000" textLength="100.2" lengthAdjust="spacingAndGlyphs"  class="ta">0.1</text>
<text x="174.4" y="1073.4" font-size="80.0" font-style="normal" fill="#000" textLength="140.4" lengthAdjust="spacingAndGlyphs"  class="ta">0.05</text>
<text x="273.3" y="1519.2" font-size="80.0" font-style="normal" fill="#000" textLength="42.8" lengthAdjust="spacingAndGlyphs"  class="ta">0</text>
<text x="212.7" y="1636.1" font-size="80.0" font-style="normal" fill="#000" textLength="103.4" lengthAdjust="spacingAndGlyphs"  class="ta">1.0</text>
<text x="212.2" y="1780.2" font-size="80.0" font-style="normal" fill="#000" textLength="104.1" lengthAdjust="spacingAndGlyphs"  class="ta">0.9</text>
<text x="213.2" y="1922.7" font-size="80.0" font-style="normal" fill="#000" textLength="102.4" lengthAdjust="spacingAndGlyphs"  class="ta">0.8</text>
<text x="211.3" y="2059.8" font-size="80.0" font-style="normal" fill="#000" textLength="104.0" lengthAdjust="spacingAndGlyphs"  class="ta">2.4</text>
<text x="211.2" y="2162.0" font-size="80.0" font-style="normal" fill="#000" textLength="107.5" lengthAdjust="spacingAndGlyphs"  class="ta">2.2</text>
<text x="211.3" y="2267.4" font-size="80.0" font-style="normal" fill="#000" textLength="106.0" lengthAdjust="spacingAndGlyphs"  class="ta">2.0</text>
<text x="330.9" y="2397.1" font-size="80.0" font-style="normal" fill="#000" textLength="40.1" lengthAdjust="spacingAndGlyphs"  class="ta">0</text>
<text x="719.9" y="2397.1" font-size="80.0" font-style="normal" fill="#000" textLength="80.9" lengthAdjust="spacingAndGlyphs"  class="ta">15</text>
<text x="1197.0" y="2397.1" font-size="80.0" font-style="normal" fill="#000" textLength="84.0" lengthAdjust="spacingAndGlyphs"  class="ta">30</text>
<text x="1671.0" y="2397.1" font-size="80.0" font-style="normal" fill="#000" textLength="78.1" lengthAdjust="spacingAndGlyphs"  class="ta">45</text>
<text x="2072.2" y="2397.1" font-size="80.0" font-style="normal" fill="#000" textLength="82.8" lengthAdjust="spacingAndGlyphs"  class="ta">60</text>
<text x="1139.6" y="2476.3" font-size="65.7" font-style="normal" fill="#000" textLength="223.7" lengthAdjust="spacingAndGlyphs"  class="tb">Time [s]</text>
<text transform="rotate(-90)" x="-847.3" y="55.6" font-size="68.0" font-style="normal" fill="#000" textLength="157.7" lengthAdjust="spacingAndGlyphs" class="tb">Force</text>
<text transform="rotate(-90)" x="-837.0" y="132.0" font-size="68.0" font-style="normal" fill="#000" textLength="134.6" lengthAdjust="spacingAndGlyphs" class="tb">[mN]</text>
<text transform="rotate(-90)" x="-1809.1" y="55.5" font-size="68.0" font-style="normal" fill="#000" textLength="151.6" lengthAdjust="spacingAndGlyphs" class="tb">Fibre</text>
<text transform="rotate(-90)" x="-2302.2" y="52.0" font-size="68.0" font-style="normal" fill="#000" textLength="296.6" lengthAdjust="spacingAndGlyphs" class="tb">Sarcomere</text>
<text transform="rotate(-90)" x="-2332.0" y="127.5" font-size="68.0" font-style="normal" fill="#000" textLength="347.1" lengthAdjust="spacingAndGlyphs" class="tb">Length [μm]</text>
<text transform="rotate(-90)" x="-1927.0" y="132.5" font-size="68.0" font-style="normal" fill="#000" textLength="193.3" lengthAdjust="spacingAndGlyphs" class="tb">Length</text>
<text transform="rotate(-90)" x="-1709.7" y="132.5" font-size="68.0" font-style="normal" fill="#000" textLength="18.5" lengthAdjust="spacingAndGlyphs" class="tb">[</text>
<text transform="rotate(-90)" x="-1688.4" y="132.5" font-size="68.0" font-style="italic" fill="#000" textLength="28.8" lengthAdjust="spacingAndGlyphs" class="tb">L</text>
<text transform="rotate(-90)" x="-1638.9" y="148.0" font-size="99.0" font-style="normal" fill="#000" textLength="12.4" lengthAdjust="spacingAndGlyphs" class="tb">⁄</text>
<text transform="rotate(-90)" x="-1615.8" y="132.5" font-size="68.0" font-style="italic" fill="#000" textLength="37.6" lengthAdjust="spacingAndGlyphs" class="tb">L</text>
<text transform="rotate(-90)" x="-1578.4" y="145.0" font-size="47.6" font-style="italic" fill="#000" textLength="18.2" lengthAdjust="spacingAndGlyphs">0</text>
<text transform="rotate(-90)" x="-1562.7" y="132.5" font-size="68.0" font-style="normal" fill="#000" textLength="18.5" lengthAdjust="spacingAndGlyphs" class="tb">]</text>
<rect x="1378" y="992.5" width="1092" height="452.5" fill="#fff"/>
<rect x="1384.6" y="1057" width="64.4" height="14" fill="#0072BD"/>
<rect x="1383" y="1140.3" width="63.8" height="13.5" fill="#7E2F8E"/>
<rect x="1383" y="1225" width="63.8" height="14.3" fill="#EDB120"/>
<rect x="1384.6" y="1307" width="14.1" height="15" fill="#D95319"/>
<rect x="1412.9" y="1307" width="14.1" height="15" fill="#D95319"/>
<rect x="1441.2" y="1307" width="7.8" height="15" fill="#D95319"/>
<rect x="1383.0" y="1398.4" width="14.0" height="15.1" fill="#77AC30"/>
<rect x="1411.0" y="1398.4" width="14.5" height="15.1" fill="#77AC30"/>
<rect x="1439.6" y="1398.4" width="6.9" height="15.1" fill="#77AC30"/>
<rect x="1706.7" y="1022.4" width="203.7" height="67.6" fill="#e2e6ec"/>
<rect x="1708.3" y="1108.9" width="277.1" height="66.1" fill="#e2e6ec"/>
<rect x="1708.3" y="1192" width="361.4" height="66.8" fill="#e2e6ec"/>
<text x="1465.7" y="1073.7" font-size="57.6" font-style="normal" fill="#000" textLength="225.5" lengthAdjust="spacingAndGlyphs"  class="tc">Isometric</text>
<text x="1712.0" y="1073.7" font-size="57.6" font-style="normal" fill="#000" textLength="26.1" lengthAdjust="spacingAndGlyphs"  class="tc">–</text>
<text x="1754.8" y="1073.7" font-size="57.6" font-style="normal" fill="#000" textLength="106.4" lengthAdjust="spacingAndGlyphs"  class="tc">SSC</text>
<text x="1878.7" y="1073.7" font-size="57.6" font-style="normal" fill="#000" textLength="27.5" lengthAdjust="spacingAndGlyphs"  class="tc">–</text>
<text x="1925.9" y="1073.7" font-size="57.6" font-style="normal" fill="#000" textLength="224.3" lengthAdjust="spacingAndGlyphs"  class="tc">Isometric</text>
<text x="1465.8" y="1159.0" font-size="57.6" font-style="normal" fill="#000" textLength="225.4" lengthAdjust="spacingAndGlyphs"  class="tc">Isometric</text>
<text x="1710.4" y="1159.0" font-size="57.6" font-style="normal" fill="#000" textLength="26.7" lengthAdjust="spacingAndGlyphs"  class="tc">–</text>
<text x="1754.6" y="1159.0" font-size="57.6" font-style="normal" fill="#000" textLength="177.5" lengthAdjust="spacingAndGlyphs"  class="tc">Stretch</text>
<text x="1952.8" y="1159.0" font-size="57.6" font-style="normal" fill="#000" textLength="26.9" lengthAdjust="spacingAndGlyphs"  class="tc">–</text>
<text x="2001.5" y="1159.0" font-size="57.6" font-style="normal" fill="#000" textLength="224.2" lengthAdjust="spacingAndGlyphs"  class="tc">Isometric</text>
<text x="1465.8" y="1242.4" font-size="57.6" font-style="normal" fill="#000" textLength="225.4" lengthAdjust="spacingAndGlyphs"  class="tc">Isometric</text>
<text x="1711.4" y="1242.4" font-size="57.6" font-style="normal" fill="#000" textLength="26.3" lengthAdjust="spacingAndGlyphs"  class="tc">–</text>
<text x="1754.8" y="1242.4" font-size="57.6" font-style="normal" fill="#000" textLength="264.2" lengthAdjust="spacingAndGlyphs"  class="tc">Shortening</text>
<text x="2040.2" y="1242.4" font-size="57.6" font-style="normal" fill="#000" textLength="26.0" lengthAdjust="spacingAndGlyphs"  class="tc">–</text>
<text x="2086.9" y="1242.4" font-size="57.6" font-style="normal" fill="#000" textLength="222.6" lengthAdjust="spacingAndGlyphs"  class="tc">Isometric</text>
<text x="1465.8" y="1326.0" font-size="57.6" font-style="normal" fill="#000" textLength="225.4" lengthAdjust="spacingAndGlyphs"  class="tc">Isometric</text>
<text x="1709.9" y="1326.0" font-size="57.6" font-style="normal" fill="#000" textLength="236.4" lengthAdjust="spacingAndGlyphs"  class="tc">Reference</text>
<text x="1963.7" y="1326.0" font-size="57.6" font-style="normal" fill="#000" textLength="46.7" lengthAdjust="spacingAndGlyphs"  class="tc">at</text>
<text x="2032.8" y="1326.0" font-size="57.6" font-style="normal" fill="#000" textLength="99.7" lengthAdjust="spacingAndGlyphs"  class="tc">0.82</text>
<text x="2158.4" y="1326.0" font-size="57.6" font-style="italic" fill="#000" textLength="35.6" lengthAdjust="spacingAndGlyphs"  class="tc">L</text>
<text x="2190.5" y="1339.0" font-size="40.3" font-style="italic" fill="#000" textLength="20.1" lengthAdjust="spacingAndGlyphs" >0</text>
<text x="2227.5" y="1326.0" font-size="57.6" font-style="normal" fill="#000" textLength="115.6" lengthAdjust="spacingAndGlyphs"  class="tc">[0.82</text>
<text x="2361.7" y="1326.0" font-size="57.6" font-style="normal" fill="#000" textLength="106.7" lengthAdjust="spacingAndGlyphs"  class="tc">ISO]</text>
<text x="1462.6" y="1413.5" font-size="57.6" font-style="normal" fill="#000" textLength="225.4" lengthAdjust="spacingAndGlyphs"  class="tc">Isometric</text>
<text x="1708.3" y="1413.5" font-size="57.6" font-style="normal" fill="#000" textLength="234.9" lengthAdjust="spacingAndGlyphs"  class="tc">Reference</text>
<text x="1960.5" y="1413.5" font-size="57.6" font-style="normal" fill="#000" textLength="46.7" lengthAdjust="spacingAndGlyphs"  class="tc">at</text>
<text x="2029.9" y="1413.5" font-size="57.6" font-style="normal" fill="#000" textLength="71.8" lengthAdjust="spacingAndGlyphs"  class="tc">1.0</text>
<text x="2125.4" y="1413.5" font-size="57.6" font-style="italic" fill="#000" textLength="35.6" lengthAdjust="spacingAndGlyphs"  class="tc">L</text>
<text x="2157.5" y="1426.5" font-size="40.3" font-style="italic" fill="#000" textLength="18.9" lengthAdjust="spacingAndGlyphs" >0</text>
<text x="2194.5" y="1413.5" font-size="57.6" font-style="normal" fill="#000" textLength="87.6" lengthAdjust="spacingAndGlyphs"  class="tc">[1.0</text>
<text x="2302.0" y="1413.5" font-size="57.6" font-style="normal" fill="#000" textLength="106.7" lengthAdjust="spacingAndGlyphs"  class="tc">ISO]</text>
<text x="675.3" y="1755.0" font-size="57.6" font-style="normal" fill="#000" textLength="224.9" lengthAdjust="spacingAndGlyphs"  class="tc">Isometric</text>
<text x="1677.2" y="1755.0" font-size="57.6" font-style="normal" fill="#000" textLength="224.8" lengthAdjust="spacingAndGlyphs"  class="tc">Isometric</text>
<rect x="797.8" y="1620" width="8.4" height="86" fill="#000"/>
<polygon points="802.0,1591.4 785.7,1623 818.3,1623" fill="#000"/>
<rect x="1778.7" y="1620" width="8.4" height="86" fill="#000"/>
<polygon points="1782.9,1591.4 1766.6,1623 1799.2,1623" fill="#000"/>
<line x1="1159.6" y1="1781.3" x2="1245" y2="1724" stroke="#dce1ea" stroke-width="7.5"/>
<polygon points="1267.9,1710.4 1233.2,1714.5 1250.9,1739.7" fill="#dce1ea"/>
<text x="1065.2" y="1824.2" font-size="59.4" font-style="normal" fill="#a9b7cc" textLength="145.1" lengthAdjust="spacingAndGlyphs"  class="tc">Ramp</text>
</svg></body></html>
